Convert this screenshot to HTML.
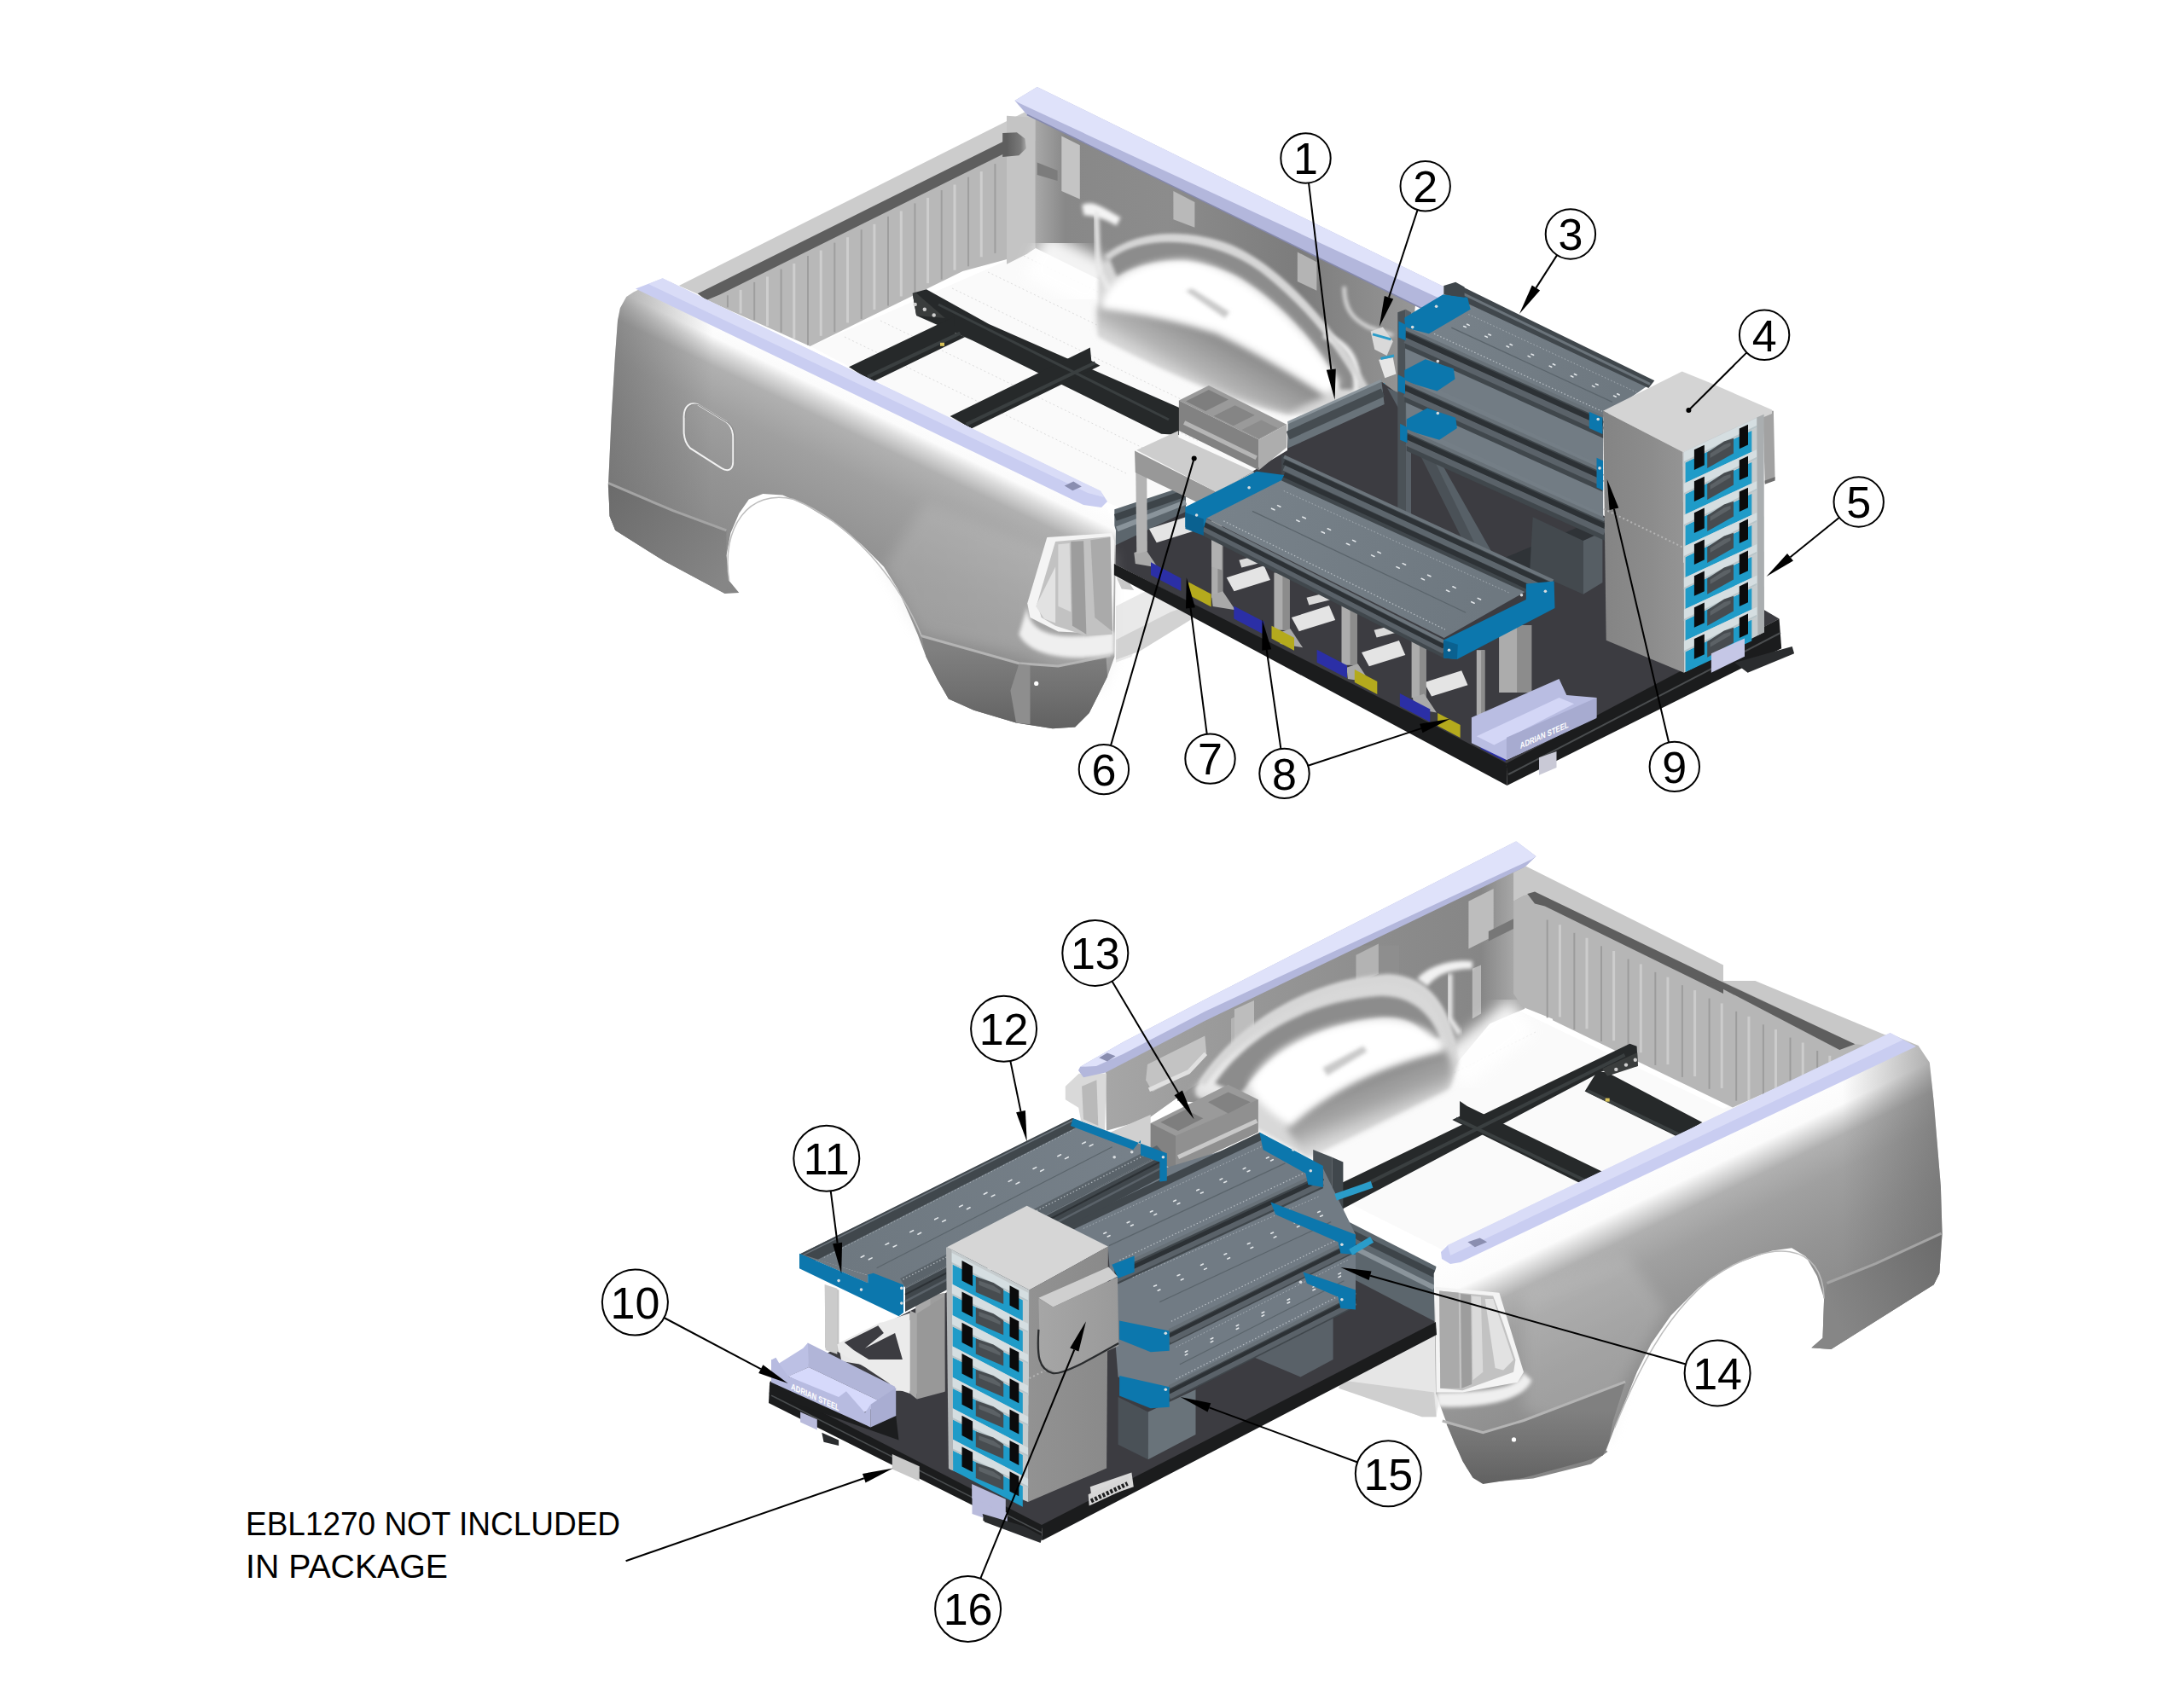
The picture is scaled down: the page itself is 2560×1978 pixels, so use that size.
<!DOCTYPE html>
<html><head><meta charset="utf-8"><title>EBL1270 package</title>
<style>
html,body{margin:0;padding:0;background:#fff;}
body{width:2560px;height:1978px;overflow:hidden;}
svg{display:block;}
text{font-family:"Liberation Sans","DejaVu Sans",sans-serif;fill:#000;}
</style></head><body>
<svg width="2560" height="1978" viewBox="0 0 2560 1978">
<defs>
<linearGradient id="g1" gradientUnits="userSpaceOnUse" x1="1180" y1="100" x2="1203.8" y2="100"><stop offset="0" stop-color="#5e5e5e"/><stop offset="0.7" stop-color="#7a7a7a"/><stop offset="1" stop-color="#b0b0b0"/></linearGradient>
<linearGradient id="g2" gradientUnits="userSpaceOnUse" x1="1213.4" y1="100" x2="1656.6" y2="100"><stop offset="0" stop-color="#a8a8a8"/><stop offset="0.08" stop-color="#888888"/><stop offset="0.35" stop-color="#8c8c8c"/><stop offset="0.7" stop-color="#7c7c7c"/><stop offset="1" stop-color="#969696"/></linearGradient>
<linearGradient id="g3" gradientUnits="userSpaceOnUse" x1="1389.9" y1="374" x2="1349.6" y2="443.6"><stop offset="0" stop-color="#8e8e8e"/><stop offset="0.55" stop-color="#b4b4b4"/><stop offset="1" stop-color="#f4f4f4"/></linearGradient>
<linearGradient id="g4" gradientUnits="userSpaceOnUse" x1="1000" y1="446" x2="857.1" y2="743"><stop offset="0" stop-color="#ffffff"/><stop offset="0.075" stop-color="#fbfbfb"/><stop offset="0.11" stop-color="#dcdcdc"/><stop offset="0.17" stop-color="#b0b0b0"/><stop offset="0.3" stop-color="#a0a0a0"/><stop offset="0.5" stop-color="#949494"/><stop offset="0.75" stop-color="#8a8a8a"/><stop offset="1" stop-color="#808080"/></linearGradient>
<linearGradient id="g5" gradientUnits="userSpaceOnUse" x1="712" y1="0" x2="835" y2="0"><stop offset="0" stop-color="#6a6a6a"/><stop offset="1" stop-color="#6a6a6a00"/></linearGradient>
<linearGradient id="g6" gradientUnits="userSpaceOnUse" x1="1080" y1="0" x2="1300" y2="0"><stop offset="0" stop-color="#c9c9c9"/><stop offset="1" stop-color="#d4d4d4"/></linearGradient>
<linearGradient id="g7" gradientUnits="userSpaceOnUse" x1="713" y1="578.9" x2="851.4" y2="677.8"><stop offset="0" stop-color="#6c6c6c"/><stop offset="1" stop-color="#868686"/></linearGradient>
<linearGradient id="g8" gradientUnits="userSpaceOnUse" x1="1174.5" y1="760.2" x2="1174.5" y2="852.5"><stop offset="0" stop-color="#808080"/><stop offset="0.5" stop-color="#727272"/><stop offset="1" stop-color="#626262"/></linearGradient>
<linearGradient id="g9" gradientUnits="userSpaceOnUse" x1="1669.7" y1="388.8" x2="1879.1" y2="486.2"><stop offset="0" stop-color="#78828a"/><stop offset="1" stop-color="#6e7880"/></linearGradient>
<linearGradient id="g10" gradientUnits="userSpaceOnUse" x1="1414.3" y1="606.9" x2="1739.6" y2="724.1"><stop offset="0" stop-color="#78828a"/><stop offset="1" stop-color="#6e7880"/></linearGradient>
<linearGradient id="g11" gradientUnits="userSpaceOnUse" x1="1879.1" y1="400" x2="1972.7" y2="400"><stop offset="0" stop-color="#848484"/><stop offset="0.6" stop-color="#8c8c8c"/><stop offset="1" stop-color="#949494"/></linearGradient>
<linearGradient id="g12" gradientUnits="userSpaceOnUse" x1="1380" y1="960" x2="1775.6" y2="960"><stop offset="0" stop-color="#929292"/><stop offset="0.3" stop-color="#7e7e7e"/><stop offset="0.6" stop-color="#8c8c8c"/><stop offset="0.9" stop-color="#868686"/><stop offset="1" stop-color="#a8a8a8"/></linearGradient>
<linearGradient id="g13" gradientUnits="userSpaceOnUse" x1="1590.6" y1="1261.2" x2="1618.1" y2="1330.8"><stop offset="0" stop-color="#888888"/><stop offset="0.5" stop-color="#a6a6a6"/><stop offset="1" stop-color="#f2f2f2"/></linearGradient>
<linearGradient id="g14" gradientUnits="userSpaceOnUse" x1="1296.9" y1="1120" x2="1604.6" y2="1120"><stop offset="0" stop-color="#a6a6a6"/><stop offset="0.5" stop-color="#989898"/><stop offset="1" stop-color="#8e8e8e"/></linearGradient>
<linearGradient id="g15" gradientUnits="userSpaceOnUse" x1="1950" y1="1340" x2="2092.9" y2="1637"><stop offset="0" stop-color="#ffffff"/><stop offset="0.15" stop-color="#fbfbfb"/><stop offset="0.19" stop-color="#dcdcdc"/><stop offset="0.25" stop-color="#b0b0b0"/><stop offset="0.36" stop-color="#a0a0a0"/><stop offset="0.55" stop-color="#949494"/><stop offset="0.78" stop-color="#8a8a8a"/><stop offset="1" stop-color="#808080"/></linearGradient>
<linearGradient id="g16" gradientUnits="userSpaceOnUse" x1="2278" y1="0" x2="2160" y2="0"><stop offset="0" stop-color="#6a6a6a"/><stop offset="1" stop-color="#6a6a6a00"/></linearGradient>
<linearGradient id="g17" gradientUnits="userSpaceOnUse" x1="2141.4" y1="1522.6" x2="2274.9" y2="1456.7"><stop offset="0" stop-color="#868686"/><stop offset="1" stop-color="#6c6c6c"/></linearGradient>
<linearGradient id="g18" gradientUnits="userSpaceOnUse" x1="1786" y1="1654.1" x2="1786" y2="1737.5"><stop offset="0" stop-color="#808080"/><stop offset="0.5" stop-color="#727272"/><stop offset="1" stop-color="#626262"/></linearGradient>
<linearGradient id="g19" gradientUnits="userSpaceOnUse" x1="937.5" y1="1470.6" x2="1364" y2="1352"><stop offset="0" stop-color="#6d777f"/><stop offset="1" stop-color="#77818a"/></linearGradient>
<linearGradient id="g20" gradientUnits="userSpaceOnUse" x1="1206.6" y1="1260" x2="1298.9" y2="1260"><stop offset="0" stop-color="#929292"/><stop offset="1" stop-color="#8a8a8a"/></linearGradient>
<linearGradient id="g21" gradientUnits="userSpaceOnUse" x1="1218.3" y1="1260" x2="1310.6" y2="1260"><stop offset="0" stop-color="#a6a6a6"/><stop offset="1" stop-color="#9a9a9a"/></linearGradient>
</defs>
<rect width="2560" height="1978" fill="#fff"/>
<filter id="b2" x="-20%" y="-20%" width="140%" height="140%"><feGaussianBlur stdDeviation="2"/></filter>
<filter id="b4" x="-20%" y="-20%" width="140%" height="140%"><feGaussianBlur stdDeviation="4"/></filter>
<filter id="b8" x="-30%" y="-30%" width="160%" height="160%"><feGaussianBlur stdDeviation="8"/></filter>
<filter id="b14" x="-30%" y="-30%" width="160%" height="160%"><feGaussianBlur stdDeviation="14"/></filter>
<clipPath id="cpTop"><polygon points="743,342.3 734.2,348.1 726.9,361.3 724,376 721,417 716.6,490.3 712.8,574.1 713,565.7 714.6,605.3 721.2,621.8 778.9,658 821.8,681.1 849.8,695.9 866.3,694.9 854.7,681.1 851.4,651.4 856.4,625.1 866.3,602 877.8,585.5 894.3,578.9 917.4,580.5 943.7,592.1 976.7,611.9 1009.7,638.2 1036,664.6 1052.5,691 1065.7,720.7 1075.6,743.7 1085.5,770.1 1098.7,796.5 1111.9,819.6 1141.5,832.7 1191,847.6 1233.8,854.2 1260.2,852.5 1276.7,836 1289.9,809.7 1298.1,793.2 1306.4,770.1 1308,621.8 1304.7,611.9 1296.5,592.1 1289.9,575.6 776.7,326.2"/></clipPath>
<clipPath id="cpBot"><polygon points="2215.6,1212.1 2248.6,1225.9 2261.8,1245.7 2266.7,1291.9 2274.9,1390.8 2276.6,1446.8 2273.3,1493 2266.7,1506.2 2146.4,1582 2123.3,1580.3 2136.5,1568.8 2138.1,1522.6 2129.9,1496.3 2116.7,1473.2 2100.2,1463.3 2077.1,1466.6 2031,1483.1 1991.4,1509.5 1958.5,1542.4 1935.4,1575.4 1918.9,1608.4 1905.7,1641.3 1892.5,1674.3 1882.6,1700.7 1884.5,1702.1 1865.1,1716.6 1797.1,1733.6 1738.9,1738.5 1719.5,1721.5 1704.9,1692.4 1692.8,1660.8 1683.1,1634.1 1680.7,1493.4 1693,1462"/></clipPath>
<polygon points="950,406 1213,291 1330,345 1650,520 1420,640 1300,590" fill="#fafafa" />
<polyline points="990,395 1320,555" fill="none" stroke="#dcdcdc" stroke-width="1" stroke-dasharray="2 3"/>
<polyline points="1032,376 1362,536" fill="none" stroke="#dcdcdc" stroke-width="1" stroke-dasharray="2 3"/>
<polyline points="1074,357 1404,517" fill="none" stroke="#dcdcdc" stroke-width="1" stroke-dasharray="2 3"/>
<polyline points="1116,338 1446,498" fill="none" stroke="#dcdcdc" stroke-width="1" stroke-dasharray="2 3"/>
<polyline points="1158,319 1488,479" fill="none" stroke="#dcdcdc" stroke-width="1" stroke-dasharray="2 3"/>
<polyline points="1200,300 1530,460" fill="none" stroke="#dcdcdc" stroke-width="1" stroke-dasharray="2 3"/>
<polygon points="1420,1330 1770,1180 2020,1300 2170,1235 1700,1470 1560,1400" fill="#fafafa" />
<polyline points="1800,1210 1500,1360" fill="none" stroke="#dedede" stroke-width="1" stroke-dasharray="2 3"/>
<polyline points="1760,1230 1460,1380" fill="none" stroke="#dedede" stroke-width="1" stroke-dasharray="2 3"/>
<polyline points="1720,1250 1420,1400" fill="none" stroke="#dedede" stroke-width="1" stroke-dasharray="2 3"/>
<polyline points="1680,1270 1380,1420" fill="none" stroke="#dedede" stroke-width="1" stroke-dasharray="2 3"/>
<polyline points="1640,1290 1340,1440" fill="none" stroke="#dedede" stroke-width="1" stroke-dasharray="2 3"/>
<polyline points="1600,1310 1300,1460" fill="none" stroke="#dedede" stroke-width="1" stroke-dasharray="2 3"/>
<polygon points="795.8,334.9 1204.5,129.8 1213.9,140.1 1213.9,167.9 1192.8,159.1 819.2,345.2" fill="#cccccc" />
<polygon points="826.5,351.1 1178.2,178.2 1201.6,167.9 1213.9,165 1213.9,291 1201.6,298.3 1128.4,317.9 949.6,405.9" fill="#b8b8b8" />
<polygon points="1213.4,138.1 1659,357.4 1644.7,502 1585.1,474.2 1213.4,290.7" fill="url(#g2)" />
<polygon points="1569.1,1618.3 1683.5,1561.1 1688.3,1630.2 1683.5,1661.2 1666.8,1661.2 1571.5,1627.8" fill="#e6e6e6" />
<polygon points="1380,1212 1787.3,1004 1787.3,1182.7 1746.3,1200.3 1702.3,1253 1467.9,1297 1380,1291.1" fill="url(#g12)" />
<polygon points="1296,1252.7 1585.4,1108.5 1640,1108.5 1640,1177.7 1470,1227.7 1393.1,1277.7 1345,1312.3 1296.9,1325.8" fill="url(#g14)" />
<polygon points="817.7,344.3 1188.4,159.7 1199.3,163.5 1200.1,170.8 1175.2,181.1 844.1,345.2 828,351.9" fill="#5e5e5e" />
<polyline points="852.9,346.3 852.9,360.4" fill="none" stroke="#9e9e9e" stroke-width="2" />
<polyline points="868.1,339.9 868.1,367.5" fill="none" stroke="#cecece" stroke-width="3" />
<polyline points="884.2,330.9 884.2,375.1" fill="none" stroke="#9e9e9e" stroke-width="2" />
<polyline points="899.5,324.4 899.5,382.3" fill="none" stroke="#cecece" stroke-width="3" />
<polyline points="915.6,315.5 915.6,389.8" fill="none" stroke="#9e9e9e" stroke-width="2" />
<polyline points="930.8,309 930.8,397" fill="none" stroke="#cecece" stroke-width="3" />
<polyline points="947,300.1 947,404.6" fill="none" stroke="#9e9e9e" stroke-width="2" />
<polyline points="962.2,293.6 962.2,393.8" fill="none" stroke="#cecece" stroke-width="3" />
<polyline points="978.3,284.6 978.3,389.4" fill="none" stroke="#9e9e9e" stroke-width="2" />
<polyline points="993.6,278.2 993.6,378.4" fill="none" stroke="#cecece" stroke-width="3" />
<polyline points="1009.7,269.2 1009.7,374" fill="none" stroke="#9e9e9e" stroke-width="2" />
<polyline points="1024.9,262.8 1024.9,363" fill="none" stroke="#cecece" stroke-width="3" />
<polyline points="1041,253.8 1041,358.6" fill="none" stroke="#9e9e9e" stroke-width="2" />
<polyline points="1056.3,247.4 1056.3,347.5" fill="none" stroke="#cecece" stroke-width="3" />
<polyline points="1072.4,238.4 1072.4,343.1" fill="none" stroke="#9e9e9e" stroke-width="2" />
<polyline points="1087.6,231.9 1087.6,332.1" fill="none" stroke="#cecece" stroke-width="3" />
<polyline points="1103.7,223 1103.7,327.7" fill="none" stroke="#9e9e9e" stroke-width="2" />
<polyline points="1119,216.5 1119,316.7" fill="none" stroke="#cecece" stroke-width="3" />
<polyline points="1135.1,207.6 1135.1,312.3" fill="none" stroke="#9e9e9e" stroke-width="2" />
<polyline points="1150.3,201.1 1150.3,301.3" fill="none" stroke="#cecece" stroke-width="3" />
<polyline points="1166.4,192.1 1166.4,296.9" fill="none" stroke="#9e9e9e" stroke-width="2" />
<polyline points="1181.7,185.7 1181.7,285.9" fill="none" stroke="#cecece" stroke-width="3" />
<polygon points="1180,135.7 1213.4,138.1 1213.4,290.7 1203.8,297.8 1180,309.7" fill="#c4c4c4" />
<polygon points="1244.3,159.6 1265.8,170.3 1265.8,233.5 1244.3,223.9" fill="#c4c4c4" />
<polygon points="1375.4,223.9 1400.4,237 1400.4,266.8 1375.4,257.3" fill="#b9b9b9" />
<polygon points="1520.8,295.4 1543.4,307.3 1543.4,340.7 1520.8,330" fill="#b4b4b4" />
<polygon points="1215.7,190.6 1239.6,200.1 1239.6,212 1215.7,204.9" fill="#7c7c7c" />
<polyline points="1213.4,297.8 1294.4,338.3" fill="none" stroke="#ffffff" stroke-width="60" filter="url(#b8)" opacity="0.9"/>
<polygon points="1571.5,1618.3 1681.1,1632.6 1683.5,1661.2 1666.8,1661.2 1569.1,1627.8" fill="#cfcfcf" />
<polygon points="1443,1194.4 1469.4,1181.2 1469.4,1223.7 1443,1238.4" fill="#b3b3b3" />
<polygon points="1589.5,1119.7 1615.9,1106.5 1615.9,1141.7 1589.5,1153.4" fill="#b3b3b3" />
<polygon points="1721.4,1056.7 1750.7,1042.1 1750.7,1097.7 1721.4,1112.4" fill="#bdbdbd" />
<polygon points="1744.8,1091.9 1774.1,1077.2 1774.1,1088.9 1744.8,1103.6" fill="#777777" />
<polygon points="1725.8,1135.8 1736,1131.4 1736,1188.6 1725.8,1194.4" fill="#b9b9b9" />
<polyline points="1784.4,1191.5 1702.3,1256" fill="none" stroke="#ffffff" stroke-width="50" filter="url(#b8)" opacity="0.9"/>
<polygon points="1774.1,1023 1788.8,1015.7 2020,1131.4 2020,1153.4 1799,1046.4 1790.3,1047.9 1774.1,1056.7" fill="#c8c8c8" />
<polygon points="1774.1,1056.7 1790.3,1047.9 1799,1046.4 2020,1153.4 2020,1285.3 1916.3,1235.5 1848.9,1206.2 1784.4,1180.4 1774.1,1165.1" fill="#b6b6b6" />
<polygon points="1820,1150.1 2017.8,1150.1 2212.3,1214.4 2192.5,1225.9 2031,1298.5 1820,1196.3" fill="#b6b6b6" />
<polygon points="1345,1247.9 1412.3,1214.6 1414.2,1235.4 1393.1,1258.5 1350.8,1280 1343.1,1266.2" fill="#c3c3c3" />
<polyline points="1346.9,1277.7 1393.1,1256.9 1413.3,1235.4" fill="none" stroke="#e0e0e0" stroke-width="5" />
<polygon points="1446.9,1183.5 1470,1172.9 1470,1227.7 1446.9,1239.2" fill="#bdbdbd" />
<polygon points="1175.2,156 1191.9,155.3 1201.4,162.4 1202.9,173.9 1194.3,182.2 1175.2,183.9" fill="url(#g1)" />
<path d="M 1287.3 328.2 C 1298.3 276.9 1371.6 260.4 1444.8 287.9 C 1508.9 319 1563.9 383.2 1602.3 460.1 L 1573 485.7 1508.9 485.7 C 1444.8 471.1 1362.4 434.4 1287.3 394.1 Z" fill="#d8d8d8" filter="url(#b2)"/>
<path d="M 1402 1275.8 C 1444.1 1202.6 1535.7 1147.6 1627.3 1142.1 C 1673 1144 1702.3 1176.9 1709.7 1246.5 L 1698.7 1275.8 1533.8 1356.4 C 1497.2 1338.1 1453.3 1310.6 1402 1285 Z" fill="#d8d8d8" filter="url(#b2)"/>
<polygon points="2017.8,1150.1 2057.4,1150.1 2212.3,1214.4 2192.5,1225.9 2174.4,1224.3" fill="#c8c8c8" />
<polygon points="1790.3,1047.9 1799,1045.6 2020,1151.9 2020,1165.1 1810.8,1062.6 1799,1059.6" fill="#5e5e5e" />
<polyline points="1813.7,1078.5 1813.7,1193.3" fill="none" stroke="#9c9c9c" stroke-width="2" />
<polyline points="1828.4,1084.3 1828.4,1192.4" fill="none" stroke="#cccccc" stroke-width="3" />
<polyline points="1845.3,1093.8 1845.3,1207.2" fill="none" stroke="#9c9c9c" stroke-width="2" />
<polyline points="1860,1099.7 1860,1206.3" fill="none" stroke="#cccccc" stroke-width="3" />
<polyline points="1877,1109.2 1877,1221.1" fill="none" stroke="#9c9c9c" stroke-width="2" />
<polyline points="1891.6,1115 1891.6,1220.2" fill="none" stroke="#cccccc" stroke-width="3" />
<polyline points="1908.6,1124.5 1908.6,1235" fill="none" stroke="#9c9c9c" stroke-width="2" />
<polyline points="1923.3,1130.4 1923.3,1234.2" fill="none" stroke="#cccccc" stroke-width="3" />
<polyline points="1940.3,1139.9 1940.3,1249" fill="none" stroke="#9c9c9c" stroke-width="2" />
<polyline points="1954.9,1145.7 1954.9,1248.1" fill="none" stroke="#cccccc" stroke-width="3" />
<polyline points="1971.9,1155.2 1971.9,1262.9" fill="none" stroke="#9c9c9c" stroke-width="2" />
<polyline points="1986.6,1161.1 1986.6,1262" fill="none" stroke="#cccccc" stroke-width="3" />
<polyline points="2003.6,1170.6 2003.6,1276.8" fill="none" stroke="#9c9c9c" stroke-width="2" />
<polyline points="2018.2,1176.4 2018.2,1275.9" fill="none" stroke="#cccccc" stroke-width="3" />
<polyline points="2035.2,1185.9 2035.2,1290.7" fill="none" stroke="#9c9c9c" stroke-width="2" />
<polyline points="2049.9,1191.8 2049.9,1289.9" fill="none" stroke="#cccccc" stroke-width="3" />
<polyline points="2066.9,1201.3 2066.9,1304.7" fill="none" stroke="#9c9c9c" stroke-width="2" />
<polyline points="2081.5,1207.1 2081.5,1303.8" fill="none" stroke="#cccccc" stroke-width="3" />
<polyline points="2098.5,1216.6 2098.5,1318.6" fill="none" stroke="#9c9c9c" stroke-width="2" />
<polyline points="2113.2,1222.5 2113.2,1317.7" fill="none" stroke="#cccccc" stroke-width="3" />
<polyline points="2130.2,1232 2130.2,1332.5" fill="none" stroke="#9c9c9c" stroke-width="2" />
<polyline points="2144.8,1237.8 2144.8,1331.6" fill="none" stroke="#cccccc" stroke-width="3" />
<polyline points="2161.8,1247.3 2161.8,1346.4" fill="none" stroke="#9c9c9c" stroke-width="2" />
<polyline points="2176.5,1253.2 2176.5,1345.6" fill="none" stroke="#cccccc" stroke-width="3" />
<path d="M 1398.8 1279.6 C 1431.5 1243.1 1470 1212.3 1527.7 1193.1 L 1537.3 1210.4 C 1489.2 1227.7 1450.8 1254.6 1427.7 1285.4 Z" fill="#e9e9e9" filter="url(#b4)"/>
<path d="M 1300.1 302.6 C 1334.9 273.3 1417.4 273.3 1477.8 317.2 C 1527.3 355.7 1565.7 401.5 1595 456.4 L 1571.2 456.4 C 1545.6 405.1 1508.9 361.2 1454 326.4 C 1408.2 302.6 1353.3 298.9 1309.3 324.5 Z" fill="#8c8c8c" filter="url(#b2)"/>
<path d="M 1268.2 240.6 C 1280.1 233.5 1292 243 1313.5 254.9 L 1308.7 264.4 C 1292 254.9 1280.1 252.5 1270.6 252.5 Z" fill="#f4f4f4" filter="url(#b2)"/>
<polyline points="1284.9,247.8 1287.2,314.5 1299.2,338.3" fill="none" stroke="#e9e9e9" stroke-width="6" filter="url(#b2)"/>
<path d="M 1575.6 335.9 C 1575.6 362.1 1585.1 374.1 1604.2 383.6 L 1632.8 393.1" fill="none" stroke="#e4e4e4" stroke-width="4" filter="url(#b2)"/>
<path d="M 1551.8 393.1 C 1570.8 400.3 1585.1 409.8 1589.9 433.6 L 1589.9 471.8" fill="none" stroke="#efefef" stroke-width="7" filter="url(#b2)"/>
<path d="M 1424 1270.3 C 1462.4 1213.6 1535.7 1173.3 1618.1 1167.8 C 1654.7 1167.8 1676.7 1187.9 1687.7 1217.2 L 1671.2 1219 C 1662.1 1198.9 1645.6 1191.6 1618.1 1193.4 C 1554 1198.9 1489.9 1233.7 1453.3 1283.2 Z" fill="#8c8c8c" filter="url(#b2)"/>
<path d="M 1661.3 1147.5 C 1673 1132.9 1702.3 1124.1 1725.8 1127 L 1725.8 1135.8 C 1702.3 1135.8 1684.8 1141.7 1673 1156.3 Z" fill="#f2f2f2" filter="url(#b2)"/>
<polyline points="1699.4,1141.7 1699.4,1194.4 1711.1,1212" fill="none" stroke="#eaeaea" stroke-width="6" filter="url(#b2)"/>
<polygon points="2004.6,1151.8 2019.8,1151.8 2174.4,1224.3 2156.3,1230.9" fill="#5e5e5e" />
<polygon points="1264.6,1258.8 1248.8,1273.8 1248.8,1289.2 1264.2,1298.8 1267.1,1314.2 1295,1325.8 1296.9,1258.5" fill="#d9d9d9" />
<path d="M 1296.5 302.6 C 1334.9 269.6 1419.2 269.6 1481.5 315.4 C 1532.7 355.7 1573 405.1 1602.3 458.2" fill="none" stroke="#d6d6d6" stroke-width="7" filter="url(#b2)"/>
<path d="M 1287.3 357.5 C 1334.9 364.8 1380.7 374 1426.5 390.5 C 1472.3 412.5 1518.1 439.9 1554.7 463.7 L 1510.8 483.9 C 1444.8 469.2 1367.9 432.6 1291 394.1 C 1285.5 383.2 1285.5 370.3 1287.3 357.5 Z" fill="url(#g3)" filter="url(#b4)"/>
<polygon points="1606.6,388.4 1620.9,383.6 1632.8,400.3 1625.6,417 1611.3,409.8" fill="#d9d9d9" />
<polygon points="1616.1,421.7 1632.8,419.3 1636.4,438.4 1623.3,443.2" fill="#e6e6e6" />
<polygon points="1189.5,117.9 1215.7,101.9 1692,336 1692,374 1203.8,134.5" fill="#b3b7dc" />
<path d="M 1409.3 1270.3 C 1453.3 1202.6 1535.7 1154.9 1621.8 1149.5 C 1665.7 1149.5 1691.4 1178.8 1702.3 1228.2" fill="none" stroke="#d6d6d6" stroke-width="7" filter="url(#b2)"/>
<path d="M 1508.2 1321.6 C 1563.2 1268.5 1636.4 1242.9 1693.2 1230 C 1705.1 1246.5 1703.3 1264.8 1695 1276.7 L 1535.7 1355.5 C 1522.9 1345.4 1513.7 1334.4 1508.2 1321.6 Z" fill="url(#g13)" filter="url(#b4)"/>
<polygon points="1777.1,986.4 1800.5,1004 1787.9,1016.3 1412.3,1196.9 1316.2,1246.9 1296,1257.5 1270,1263.3 1264,1255 1266.2,1250.8 1316.2,1221.9 1412.3,1171.9" fill="#b3b7dc" />
<polygon points="1268.1,1273.8 1285.4,1266.2 1287.3,1320 1270,1312.3" fill="#b9b9b9" />
<path d="M 1291 361.2 C 1294.7 328.2 1334.9 304.4 1389.9 304.4 C 1444.8 311.7 1508.9 357.5 1571.2 449.1 L 1554.7 461.9 C 1518.1 438.1 1472.3 410.6 1426.5 388.6 C 1371.6 372.2 1325.8 364.8 1291 361.2 Z" fill="#ffffff" filter="url(#b4)"/>
<polyline points="1609,391.9 1630.4,397.9" fill="none" stroke="#2a9cc9" stroke-width="3" />
<polyline points="1618.5,420.5 1634,417" fill="none" stroke="#2a9cc9" stroke-width="3" />
<polyline points="1606.6,457.5 1623.3,450.3" fill="none" stroke="#2a9cc9" stroke-width="3" />
<polygon points="1189.5,117.9 1215.7,101.9 1692,336 1692,352 1196,121.5" fill="#dfe2fa" />
<polyline points="1203.8,134.5 1692,374" fill="none" stroke="#8589ad" stroke-width="1.5" />
<path d="M 1464.2 1272.2 C 1482.6 1231.9 1544.8 1198.9 1618.1 1195.2 C 1654.7 1195.2 1687.7 1209.9 1691.4 1231 C 1645.6 1242.9 1572.3 1264.8 1511.9 1319.8 C 1489.9 1305.1 1471.6 1290.5 1464.2 1272.2 Z" fill="#ffffff" filter="url(#b4)"/>
<polygon points="1777.1,986.4 1800.5,1004 1795.5,1007.5 1412.3,1186 1316.2,1236 1285,1250 1266.2,1250.8 1316.2,1221.9 1412.3,1171.9" fill="#dfe2fa" />
<path d="M 1389.9 341 L 1397.2 338.3 1441.2 365.8 1435.7 373.1 Z" fill="#c9c9c9" filter="url(#b2)"/>
<polygon points="1069.7,343.7 1085.9,339.3 1159.2,380 1382.3,478.1 1382,510 1361.2,508.8 1140,399.2 1074.1,370.1" fill="#26292a" />
<polygon points="995,430.2 1118.1,371.6 1119.6,390.6 1131.3,395 1022.9,447.8" fill="#26292a" />
<polygon points="1113.7,487.9 1277.8,407.6 1279.3,422.9 1289.5,428.7 1138.6,502.6" fill="#26292a" />
<path d="M 1550.3 1252 L 1597.9 1226.4 1602.5 1232.8 1555.8 1261.2 Z" fill="#c9c9c9" filter="url(#b2)"/>
<polygon points="1288.3,1240.2 1297.9,1234.4 1307.5,1238.3 1297.9,1244.6" fill="#8a8eb0" />
<polygon points="1910.4,1223.7 1918.6,1226.7 1919.8,1250.1 1878.2,1256 1567.5,1420.7 1561.7,1417.1 1561.7,1392.2" fill="#26292a" />
<polygon points="1711.1,1291.1 1719.9,1297 1878.2,1373.8 1854.7,1388.4 1702.3,1313.1 1711.1,1308.7" fill="#26292a" />
<polygon points="1872.3,1256 1884,1257.4 1995.4,1316 1966.1,1332.7 1857.7,1279.4" fill="#26292a" />
<polyline points="1100,357 1370,492" fill="none" stroke="#3a3f40" stroke-width="3" />
<polygon points="1069.7,344.6 1074.1,343.7 1107.8,373 1074.1,370.1" fill="#3a3d3d" />
<circle cx="1072.7" cy="356.9" r="2.2" fill="#cfcfcf"/>
<circle cx="1083.8" cy="362.8" r="2.2" fill="#cfcfcf"/>
<circle cx="1094.7" cy="369.5" r="2.2" fill="#cfcfcf"/>
<polyline points="1017,441.9 1125.4,390.6" fill="none" stroke="#3a3f40" stroke-width="4" />
<polyline points="1132.7,497.6 1283.7,425.2" fill="none" stroke="#3a3f40" stroke-width="4" />
<rect x="1102" y="401.8" width="5" height="4" fill="#d9c35a"/>
<polygon points="1308,710.8 1400,664.6 1400,710.8 1339.3,740.4 1326.2,770.1 1308,776.7" fill="#e9e9e9" />
<polyline points="1904.5,1236.9 1567.5,1405.4" fill="none" stroke="#3a3f40" stroke-width="4" />
<polygon points="1878.2,1253 1919.2,1234 1919.8,1250.1 1884,1261.8" fill="#3a3d3d" />
<circle cx="1894.3" cy="1253.9" r="2.2" fill="#cfcfcf"/>
<circle cx="1906" cy="1248.6" r="2.2" fill="#cfcfcf"/>
<circle cx="1916.8" cy="1242.8" r="2.2" fill="#cfcfcf"/>
<polyline points="1706.7,1311.6 1860.6,1385.5" fill="none" stroke="#3a3f40" stroke-width="4" />
<polyline points="1860.6,1278.8 1969,1330.7" fill="none" stroke="#3a3f40" stroke-width="4" />
<rect x="1881.7" y="1287.6" width="5" height="4" fill="#d9c35a"/>
<polygon points="1308,750.3 1372.3,717.4 1400,707.5 1400,724 1336,763.5 1308,773.4" fill="#d2d2d2" />
<polygon points="1306.3,597.3 1390,569.4 1390,612.7 1309.2,649.2 1306.3,630" fill="#5c666d" />
<polygon points="1571.5,1427.7 1683.5,1484.9 1683.5,1551.6 1578.6,1503.9" fill="#5c666d" />
<polyline points="1309.2,620.4 1390,588.7" fill="none" stroke="#8a949b" stroke-width="6" />
<polyline points="1307.3,606.9 1390,578.1" fill="none" stroke="#3d4449" stroke-width="8" />
<polygon points="1306,640 1390,600 1509,528 1510,500 1620,448 1650,470 2085.5,725.5 1765.9,897 1305.9,661" fill="#3c3c41" />
<polyline points="1578.6,1458.6 1681.1,1509.9" fill="none" stroke="#8a949b" stroke-width="6" />
<polyline points="1576.3,1442 1682.3,1494.4" fill="none" stroke="#3d4449" stroke-width="8" />
<polygon points="902,1621 902,1630 1221,1792 1683,1553 1683,1550 1365.5,1385" fill="#3c3c41" />
<polygon points="1308.8,677.2 1323.4,683.1 1329.3,691.9 1314.7,690.4" fill="#c8c8c8" />
<polygon points="1301.8,1327.4 1348.7,1306.9 1348.7,1356.7 1378,1372.8 1366.3,1377.2" fill="#d0d0d0" />
<polygon points="1348.7,1317.1 1439.6,1271.7 1474.7,1289.3 1474.7,1327.4 1378,1372.8 1348.7,1356.7" fill="#9a9a9a" />
<polygon points="1348.7,1317.1 1378,1331.8 1378,1372.8 1348.7,1356.7" fill="#828282" />
<polygon points="1378,1331.8 1474.7,1289.3 1474.7,1327.4 1378,1372.8" fill="#909090" />
<polyline points="1381,1356.7 1473.3,1314.2" fill="none" stroke="#c9c9c9" stroke-width="5" />
<polygon points="1360.4,1315.7 1389.7,1301 1410.3,1311.3 1381,1325.9" fill="#7e7e7e" />
<polygon points="1416.1,1292.2 1439.6,1280.5 1465.9,1292.2 1439.6,1305.4" fill="#828282" />
<polygon points="1539.2,1347.9 1561.2,1356.7 1561.2,1553 1539.2,1541.3" fill="#4b5257" />
<polygon points="1561.2,1356.7 1574.4,1362.6 1574.4,1435.8 1561.2,1430" fill="#40474c" />
<polygon points="1468.9,1570.6 1562.6,1523.7 1562.6,1594.1 1524.5,1614.6 1468.9,1591.1" fill="#596168" />
<polygon points="1310.6,1638 1345.8,1655.6 1345.8,1711.3 1310.6,1693.7" fill="#4a5157" />
<polygon points="1345.8,1655.6 1401.5,1629.2 1401.5,1682 1345.8,1711.3" fill="#69737a" />
<polygon points="1480.6,1334.7 1550.9,1369.9 1589,1447.5 1589,1523.7 1370.7,1629.2 1310.6,1614.6 1298.9,1465.1 1205.1,1418.2" fill="#717b84" />
<polygon points="743,342.3 734.2,348.1 726.9,361.3 724,376 721,417 716.6,490.3 712.8,574.1 713,565.7 714.6,605.3 721.2,621.8 778.9,658 821.8,681.1 849.8,695.9 866.3,694.9 854.7,681.1 851.4,651.4 856.4,625.1 866.3,602 877.8,585.5 894.3,578.9 917.4,580.5 943.7,592.1 976.7,611.9 1009.7,638.2 1036,664.6 1052.5,691 1065.7,720.7 1075.6,743.7 1085.5,770.1 1098.7,796.5 1111.9,819.6 1141.5,832.7 1191,847.6 1233.8,854.2 1260.2,852.5 1276.7,836 1289.9,809.7 1298.1,793.2 1306.4,770.1 1308,621.8 1304.7,611.9 1296.5,592.1 1289.9,575.6 776.7,326.2" fill="url(#g4)" />
<polygon points="1509.6,494.9 1619.2,445.5 1622.7,474.1 1509.6,525.6" fill="#69737a" />
<polygon points="1744.5,662 1878.4,606.3 1878.4,627.2 1758.4,682.9" fill="#2f3337" />
<polygon points="2215.6,1212.1 2248.6,1225.9 2261.8,1245.7 2266.7,1291.9 2274.9,1390.8 2276.6,1446.8 2273.3,1493 2266.7,1506.2 2146.4,1582 2123.3,1580.3 2136.5,1568.8 2138.1,1522.6 2129.9,1496.3 2116.7,1473.2 2100.2,1463.3 2077.1,1466.6 2031,1483.1 1991.4,1509.5 1958.5,1542.4 1935.4,1575.4 1918.9,1608.4 1905.7,1641.3 1892.5,1674.3 1882.6,1700.7 1884.5,1702.1 1865.1,1716.6 1797.1,1733.6 1738.9,1738.5 1719.5,1721.5 1704.9,1692.4 1692.8,1660.8 1683.1,1634.1 1680.7,1493.4 1693,1462" fill="url(#g15)" />
<polygon points="1476.2,1328 1486.4,1333.3 1257.9,1441.7 1249.1,1435.8" fill="#40474c" />
<polyline points="1312.3,1477.6 1531.6,1373.8" fill="none" stroke="#c9d0d5" stroke-width="1.2" stroke-dasharray="1.5 2.5" opacity="0.8"/>
<polyline points="1269.9,1440.4 1480.3,1343.6" fill="none" stroke="#c9d0d5" stroke-width="1" stroke-dasharray="1.5 2.5" opacity="0.6"/>
<polyline points="1299.9,1460.6 1506.5,1363.9" fill="none" stroke="#5a646b" stroke-width="1.2" />
<line x1="1298.2" y1="1450" x2="1301" y2="1448.7" stroke="#e3e7ea" stroke-width="1.6" stroke-linecap="round"/>
<line x1="1293.9" y1="1446.3" x2="1296.7" y2="1445" stroke="#e3e7ea" stroke-width="1.6" stroke-linecap="round"/>
<line x1="1325.6" y1="1437.3" x2="1328.3" y2="1436" stroke="#e3e7ea" stroke-width="1.6" stroke-linecap="round"/>
<line x1="1321.1" y1="1433.7" x2="1323.9" y2="1432.4" stroke="#e3e7ea" stroke-width="1.6" stroke-linecap="round"/>
<line x1="1352.9" y1="1424.6" x2="1355.6" y2="1423.3" stroke="#e3e7ea" stroke-width="1.6" stroke-linecap="round"/>
<line x1="1348.4" y1="1421" x2="1351.1" y2="1419.8" stroke="#e3e7ea" stroke-width="1.6" stroke-linecap="round"/>
<line x1="1380.2" y1="1411.8" x2="1382.9" y2="1410.6" stroke="#e3e7ea" stroke-width="1.6" stroke-linecap="round"/>
<line x1="1375.6" y1="1408.4" x2="1378.3" y2="1407.2" stroke="#e3e7ea" stroke-width="1.6" stroke-linecap="round"/>
<line x1="1407.5" y1="1399.1" x2="1410.2" y2="1397.9" stroke="#e3e7ea" stroke-width="1.6" stroke-linecap="round"/>
<line x1="1402.8" y1="1395.8" x2="1405.5" y2="1394.5" stroke="#e3e7ea" stroke-width="1.6" stroke-linecap="round"/>
<line x1="1434.8" y1="1386.4" x2="1437.6" y2="1385.2" stroke="#e3e7ea" stroke-width="1.6" stroke-linecap="round"/>
<line x1="1430" y1="1383.2" x2="1432.7" y2="1381.9" stroke="#e3e7ea" stroke-width="1.6" stroke-linecap="round"/>
<line x1="1462.1" y1="1373.7" x2="1464.9" y2="1372.4" stroke="#e3e7ea" stroke-width="1.6" stroke-linecap="round"/>
<line x1="1457.2" y1="1370.6" x2="1459.9" y2="1369.3" stroke="#e3e7ea" stroke-width="1.6" stroke-linecap="round"/>
<line x1="1489.5" y1="1361" x2="1492.2" y2="1359.7" stroke="#e3e7ea" stroke-width="1.6" stroke-linecap="round"/>
<line x1="1484.4" y1="1357.9" x2="1487.1" y2="1356.7" stroke="#e3e7ea" stroke-width="1.6" stroke-linecap="round"/>
<rect x="700" y="330" width="140" height="380" fill="url(#g5)" clip-path="url(#cpTop)" opacity="0.6"/>
<polygon points="1085.5,588.8 1273.4,664.6 1306.4,644.8 1306.4,770.1 1289.9,809.7 1207.5,770.1 1080.5,743.7 1065.7,720.7 1052.5,691 1036,664.6" fill="url(#g6)" opacity="0.28" filter="url(#b8)"/>
<polyline points="1509.6,510.6 1620.9,460.1" fill="none" stroke="#454c51" stroke-width="10" />
<polyline points="1509.6,495.6 1619.2,446.2" fill="none" stroke="#8b959c" stroke-width="3" />
<polygon points="1626.2,454.9 1643.6,461.9 1754.9,658.5 1737.5,658.5" fill="#576067" />
<polygon points="1643.6,491.5 1661,498.4 1730.5,641.1 1720.1,644.6" fill="#4a5157" />
<polygon points="1796.7,606.3 1855.8,634.1 1855.8,696.8 1793.2,668.9" fill="#43494e" />
<polygon points="1855.8,634.1 1878.4,623.7 1878.4,682.9 1855.8,696.8" fill="#565e64" />
<polygon points="1786,1513.5 1905.1,1470.6 1952.8,1534.9 1905.1,1618.3 1886.1,1689.8 1786,1654.1" fill="#d2d2d2" opacity="0.25" filter="url(#b8)"/>
<rect x="2150" y="1200" width="140" height="380" fill="url(#g16)" clip-path="url(#cpBot)" opacity="0.6"/>
<polygon points="1550.9,1372.8 1306.2,1487.1 1306.2,1507.6 1550.9,1393.3" fill="#40474c" />
<polygon points="713,566.4 788.8,598.7 851.4,621.8 851.4,651.4 854.7,681.1 849.8,695.9 821.8,681.1 778.9,658 721.2,621.8 714.6,605.3" fill="url(#g7)" />
<polygon points="1080.5,746.4 1194.3,778.4 1240.4,781.6 1296.5,770.1 1298.1,793.2 1289.9,809.7 1276.7,836 1260.2,852.5 1233.8,854.2 1191,847.6 1141.5,832.7 1111.9,819.6 1098.7,796.5 1085.5,770.1" fill="url(#g8)" />
<polygon points="1638.3,366.2 1647.7,362.7 1647.7,602.8 1638.3,599.3" fill="#4b5257" />
<polygon points="1647.7,362.7 1654,366.2 1654,606.3 1647.7,602.8" fill="#596168" />
<polygon points="2141.4,1504.5 2199.1,1481.4 2275.6,1446.8 2273.3,1493 2266.7,1506.2 2146.4,1582 2123.3,1580.3 2136.5,1568.8 2138.1,1522.6" fill="url(#g17)" />
<polygon points="1695.4,1669.6 1738.3,1680.3 1786,1666 1905.1,1620.7 1890.8,1666 1886.1,1689.8 1878.9,1706.5 1857.5,1713.6 1786,1732.7 1738.3,1739.9 1726.4,1732.7 1714.5,1713.6" fill="url(#g18)" />
<polyline points="1550.9,1374 1306.2,1488.3" fill="none" stroke="#687178" stroke-width="4" />
<polyline points="1550.9,1381.4 1306.2,1495.7" fill="none" stroke="#2c3135" stroke-width="5" />
<polyline points="1550.9,1387.6 1306.2,1501.9" fill="none" stroke="#5a6269" stroke-width="6" />
<polyline points="1372.9,1549.3 1576.1,1449.3" fill="none" stroke="#c9d0d5" stroke-width="1.2" stroke-dasharray="1.5 2.5" opacity="0.8"/>
<polyline points="1327.7,1497.8 1547.4,1402.2" fill="none" stroke="#c9d0d5" stroke-width="1" stroke-dasharray="1.5 2.5" opacity="0.6"/>
<polyline points="1359.3,1526.6 1560.2,1432.6" fill="none" stroke="#5a646b" stroke-width="1.2" />
<line x1="1357.2" y1="1513.2" x2="1359.9" y2="1512" stroke="#e3e7ea" stroke-width="1.6" stroke-linecap="round"/>
<line x1="1352.7" y1="1508.1" x2="1355.5" y2="1506.9" stroke="#e3e7ea" stroke-width="1.6" stroke-linecap="round"/>
<line x1="1384.4" y1="1500.8" x2="1387.1" y2="1499.6" stroke="#e3e7ea" stroke-width="1.6" stroke-linecap="round"/>
<line x1="1380.1" y1="1495.7" x2="1382.9" y2="1494.5" stroke="#e3e7ea" stroke-width="1.6" stroke-linecap="round"/>
<line x1="1411.6" y1="1488.4" x2="1414.3" y2="1487.1" stroke="#e3e7ea" stroke-width="1.6" stroke-linecap="round"/>
<line x1="1407.5" y1="1483.4" x2="1410.3" y2="1482.1" stroke="#e3e7ea" stroke-width="1.6" stroke-linecap="round"/>
<line x1="1438.8" y1="1475.9" x2="1441.5" y2="1474.7" stroke="#e3e7ea" stroke-width="1.6" stroke-linecap="round"/>
<line x1="1435" y1="1471" x2="1437.7" y2="1469.8" stroke="#e3e7ea" stroke-width="1.6" stroke-linecap="round"/>
<line x1="1466" y1="1463.5" x2="1468.7" y2="1462.3" stroke="#e3e7ea" stroke-width="1.6" stroke-linecap="round"/>
<line x1="1462.4" y1="1458.6" x2="1465.1" y2="1457.4" stroke="#e3e7ea" stroke-width="1.6" stroke-linecap="round"/>
<line x1="1493.2" y1="1451.1" x2="1495.9" y2="1449.8" stroke="#e3e7ea" stroke-width="1.6" stroke-linecap="round"/>
<line x1="1489.8" y1="1446.2" x2="1492.5" y2="1445" stroke="#e3e7ea" stroke-width="1.6" stroke-linecap="round"/>
<line x1="1520.4" y1="1438.7" x2="1523.1" y2="1437.4" stroke="#e3e7ea" stroke-width="1.6" stroke-linecap="round"/>
<line x1="1517.2" y1="1433.9" x2="1519.9" y2="1432.6" stroke="#e3e7ea" stroke-width="1.6" stroke-linecap="round"/>
<line x1="1547.6" y1="1426.2" x2="1550.3" y2="1425" stroke="#e3e7ea" stroke-width="1.6" stroke-linecap="round"/>
<line x1="1544.6" y1="1421.5" x2="1547.3" y2="1420.3" stroke="#e3e7ea" stroke-width="1.6" stroke-linecap="round"/>
<polyline points="713,566.4 788.8,598.7 851.4,621.8" fill="none" stroke="#a4a4a4" stroke-width="3" />
<polyline points="1080.5,745.7 1194.3,777.7 1240.4,781 1301.4,768.8" fill="none" stroke="#b4b4b4" stroke-width="3" />
<polygon points="1194.3,778.4 1207.5,780 1207.5,849.2 1191,847.6 1184.4,809.7" fill="#8e8e8e" />
<path d="M 1204.2 710.8 C 1204.2 743.7 1240.4 753.6 1306.4 740.4 L 1306.4 766.8 C 1256.9 776.7 1207.5 770.1 1194.3 743.7 Z" fill="#efefef" filter="url(#b2)"/>
<polygon points="1227.3,630 1303.1,625.1 1306.4,634.9 1304.7,743.7 1240.4,740.4 1207.5,724 1204.2,707.5" fill="#f4f4f4" />
<polygon points="1647,384.3 1702.7,338.4 1935.9,449 1879.1,488.7" fill="url(#g9)" />
<polygon points="1647,404.5 1879.1,508.9 1879.1,613.3 1648.8,522.8" fill="#727c84" />
<polyline points="2141.4,1504.5 2199.1,1481.4 2275.6,1446.2" fill="none" stroke="#a4a4a4" stroke-width="3" />
<polyline points="1690.7,1666 1738.3,1679.8 1786,1665.5 1905.1,1620.2" fill="none" stroke="#b4b4b4" stroke-width="3" />
<path d="M 1784.8 1608.8 C 1783.6 1627.8 1738.3 1632.6 1683.5 1632.6 L 1684.7 1649.3 C 1738.3 1651.7 1786 1642.1 1795.5 1618.3 Z" fill="#efefef" filter="url(#b2)"/>
<polygon points="1682.3,1508.7 1757.4,1515.8 1766.9,1546.8 1786,1608.8 1778.8,1620.7 1714.5,1632.6 1683.5,1632.6" fill="#f4f4f4" />
<polygon points="1476.2,1327.4 1550.9,1367 1550.9,1391.9 1533.3,1388.9 1530.4,1375.8 1480.6,1347.9" fill="#0c77ad" />
<polygon points="1303.3,1482.7 1329.7,1472.5 1329.7,1491.5 1310.6,1498.8" fill="#0c77ad" />
<circle cx="1214.7" cy="801.4" r="2.6" fill="#fff"/>
<polygon points="1237.1,634.9 1301.4,629 1304.1,743.7 1273.4,745.4 1237.1,733.8 1220.7,724 1215.7,707.5" fill="#c2c2c2" />
<path d="M 801.6 488.8 C 801.6 475.6 808.9 471.2 817.7 474.1 L 851.4 494.7 C 857.3 499 859.3 504.9 859.3 513.7 L 859.3 541.5 C 858.8 551.8 852.9 553.3 845.6 548.9 L 808.9 525.4 C 803.1 519.6 801.6 513.7 801.6 504.9 Z" fill="none" stroke="#f2f2f2" stroke-width="2" />
<path d="M 803.4 489.7 C 803.4 476.5 810.7 472.1 819.5 475 L 853.2 495.5 C 859 499.9 861.1 505.8 861.1 514.6 L 861.1 542.4" fill="none" stroke="#8f8f8f" stroke-width="1.2" />
<path d="M 854.7 681.1 C 844.8 618.5 877.8 572.3 930.5 585.5 C 1009.7 618.5 1059.1 694.3 1080.5 746.4" fill="none" stroke="#bdbdbd" stroke-width="1.5" />
<polygon points="1702.7,333.1 1714.9,336.6 1939.3,446.2 1932.4,454.9 1697.5,345.3" fill="#40474c" />
<circle cx="1774.5" cy="1687.9" r="2.6" fill="#fff"/>
<polygon points="1687.1,1513.5 1750.2,1519.4 1762.1,1551.6 1776.4,1594.5 1774.1,1608.8 1714.5,1630.2 1688.3,1627.8" fill="#c2c2c2" />
<path d="M 2138.1 1522.6 C 2136.5 1456.7 2077.1 1450.1 2004.6 1499.6 C 1951.9 1542.4 1918.9 1608.4 1892.5 1674.3" fill="none" stroke="#bdbdbd" stroke-width="1.5" />
<polygon points="1589,1450.5 1370.7,1558.9 1370.7,1577.1 1589,1468.6" fill="#40474c" />
<polygon points="1255.3,634.9 1270.1,634.3 1273.4,743.7 1256.9,733.8" fill="#9d9d9d" />
<polygon points="1240.4,638.2 1253.6,636.9 1255.3,717.4 1240.4,710.8" fill="#dadada" />
<polygon points="1278.4,633.3 1301.4,630 1304.1,740.4 1283.3,724" fill="#aaaaaa" />
<polygon points="1214.1,710.8 1237.1,664.6 1237.1,730.5 1224,725.6" fill="#e2e2e2" />
<polyline points="1706.2,340.1 1934.1,450.4" fill="none" stroke="#6a737a" stroke-width="3" />
<polygon points="1646.3,372.5 1691.6,345.3 1720.1,348.8 1723.6,362.7 1674.9,391.2 1647,384.3" fill="#0c77ad" />
<polygon points="1692.3,334.9 1706.2,330.7 1716.6,336.6 1716.6,348.8 1692.3,345.3" fill="#3f464b" />
<polygon points="1647,383.6 1879.1,488 1879.1,513.7 1647,408.6" fill="#40474c" />
<polygon points="1712.1,1517 1724,1518.2 1725.2,1623.1 1713.3,1627.8" fill="#9d9d9d" />
<polygon points="1725.2,1519.4 1735.9,1520.6 1738.3,1608.8 1726.4,1618.3" fill="#dadada" />
<polygon points="1687.1,1513.5 1709.7,1515.8 1710.9,1627.8 1688.3,1627.8" fill="#aaaaaa" />
<polygon points="1740.7,1523 1750.2,1523 1774.1,1594.5 1762.1,1606.4 1752.6,1604" fill="#e2e2e2" />
<polyline points="1589,1451.6 1370.7,1560.1" fill="none" stroke="#687178" stroke-width="4" />
<polyline points="1589,1458.1 1370.7,1566.5" fill="none" stroke="#2c3135" stroke-width="5" />
<polyline points="1589,1463.6 1370.7,1572" fill="none" stroke="#5a6269" stroke-width="6" />
<polyline points="1681,391.3 1877.9,482.3" fill="none" stroke="#c9d0d5" stroke-width="1.2" stroke-dasharray="1.5 2.5" opacity="0.8"/>
<polyline points="1721.3,368.5 1918.3,460" fill="none" stroke="#c9d0d5" stroke-width="1" stroke-dasharray="1.5 2.5" opacity="0.6"/>
<polyline points="1701.3,384.1 1889.9,471.4" fill="none" stroke="#5a646b" stroke-width="1.2" />
<line x1="1715.7" y1="382.5" x2="1718.2" y2="383.6" stroke="#e3e7ea" stroke-width="1.6" stroke-linecap="round"/>
<line x1="1719.7" y1="380.2" x2="1722.2" y2="381.4" stroke="#e3e7ea" stroke-width="1.6" stroke-linecap="round"/>
<line x1="1740.8" y1="394.1" x2="1743.3" y2="395.3" stroke="#e3e7ea" stroke-width="1.6" stroke-linecap="round"/>
<line x1="1744.9" y1="391.9" x2="1747.4" y2="393" stroke="#e3e7ea" stroke-width="1.6" stroke-linecap="round"/>
<line x1="1766" y1="405.8" x2="1768.5" y2="406.9" stroke="#e3e7ea" stroke-width="1.6" stroke-linecap="round"/>
<line x1="1770" y1="403.5" x2="1772.5" y2="404.7" stroke="#e3e7ea" stroke-width="1.6" stroke-linecap="round"/>
<line x1="1791.1" y1="417.4" x2="1793.6" y2="418.6" stroke="#e3e7ea" stroke-width="1.6" stroke-linecap="round"/>
<line x1="1795.1" y1="415.2" x2="1797.6" y2="416.3" stroke="#e3e7ea" stroke-width="1.6" stroke-linecap="round"/>
<line x1="1816.2" y1="429.1" x2="1818.7" y2="430.3" stroke="#e3e7ea" stroke-width="1.6" stroke-linecap="round"/>
<line x1="1820.3" y1="426.8" x2="1822.8" y2="428" stroke="#e3e7ea" stroke-width="1.6" stroke-linecap="round"/>
<line x1="1841.4" y1="440.8" x2="1843.9" y2="441.9" stroke="#e3e7ea" stroke-width="1.6" stroke-linecap="round"/>
<line x1="1845.4" y1="438.5" x2="1847.9" y2="439.7" stroke="#e3e7ea" stroke-width="1.6" stroke-linecap="round"/>
<line x1="1866.5" y1="452.4" x2="1869" y2="453.6" stroke="#e3e7ea" stroke-width="1.6" stroke-linecap="round"/>
<line x1="1870.5" y1="450.2" x2="1873.1" y2="451.3" stroke="#e3e7ea" stroke-width="1.6" stroke-linecap="round"/>
<line x1="1891.6" y1="464.1" x2="1894.2" y2="465.2" stroke="#e3e7ea" stroke-width="1.6" stroke-linecap="round"/>
<line x1="1895.7" y1="461.8" x2="1898.2" y2="463" stroke="#e3e7ea" stroke-width="1.6" stroke-linecap="round"/>
<polyline points="1378.6,1616.9 1579.7,1514.2" fill="none" stroke="#c9d0d5" stroke-width="1.2" stroke-dasharray="1.5 2.5" opacity="0.8"/>
<polyline points="1378.6,1579.4 1579.7,1477.4" fill="none" stroke="#c9d0d5" stroke-width="1" stroke-dasharray="1.5 2.5" opacity="0.6"/>
<polyline points="1382.9,1599.7 1575.4,1501.7" fill="none" stroke="#5a646b" stroke-width="1.2" />
<line x1="1389.3" y1="1588.9" x2="1391.8" y2="1587.6" stroke="#e3e7ea" stroke-width="1.6" stroke-linecap="round"/>
<line x1="1389.3" y1="1585.2" x2="1391.8" y2="1583.9" stroke="#e3e7ea" stroke-width="1.6" stroke-linecap="round"/>
<line x1="1419.2" y1="1573.7" x2="1421.8" y2="1572.4" stroke="#e3e7ea" stroke-width="1.6" stroke-linecap="round"/>
<line x1="1419.2" y1="1570" x2="1421.8" y2="1568.7" stroke="#e3e7ea" stroke-width="1.6" stroke-linecap="round"/>
<line x1="1449.2" y1="1558.5" x2="1451.7" y2="1557.2" stroke="#e3e7ea" stroke-width="1.6" stroke-linecap="round"/>
<line x1="1449.2" y1="1554.7" x2="1451.7" y2="1553.4" stroke="#e3e7ea" stroke-width="1.6" stroke-linecap="round"/>
<line x1="1479.1" y1="1543.2" x2="1481.7" y2="1541.9" stroke="#e3e7ea" stroke-width="1.6" stroke-linecap="round"/>
<line x1="1479.1" y1="1539.5" x2="1481.7" y2="1538.2" stroke="#e3e7ea" stroke-width="1.6" stroke-linecap="round"/>
<line x1="1509.1" y1="1528" x2="1511.6" y2="1526.7" stroke="#e3e7ea" stroke-width="1.6" stroke-linecap="round"/>
<line x1="1509.1" y1="1524.3" x2="1511.6" y2="1523" stroke="#e3e7ea" stroke-width="1.6" stroke-linecap="round"/>
<line x1="1539" y1="1512.8" x2="1541.6" y2="1511.5" stroke="#e3e7ea" stroke-width="1.6" stroke-linecap="round"/>
<line x1="1539" y1="1509.1" x2="1541.6" y2="1507.8" stroke="#e3e7ea" stroke-width="1.6" stroke-linecap="round"/>
<line x1="1569" y1="1497.6" x2="1571.5" y2="1496.2" stroke="#e3e7ea" stroke-width="1.6" stroke-linecap="round"/>
<line x1="1569" y1="1493.9" x2="1571.5" y2="1492.6" stroke="#e3e7ea" stroke-width="1.6" stroke-linecap="round"/>
<polyline points="1647,385 1879.1,489.4" fill="none" stroke="#687178" stroke-width="4" />
<polyline points="1647,398.9 1879.1,504" fill="none" stroke="#5a6269" stroke-width="7" />
<polyline points="1647,391.9 1879.1,496.7" fill="none" stroke="#2c3135" stroke-width="6" />
<polygon points="1639.4,376.6 1647.7,380.8 1647.7,399.2 1639.4,395.8" fill="#0c77ad" />
<polygon points="1489.4,1409.5 1589,1447.5 1589,1471 1571.4,1469.5 1568.5,1456.3 1495.2,1424.1" fill="#0c77ad" />
<polygon points="1312.1,1548.6 1370.7,1560.4 1370.7,1583.8 1348.7,1585.3 1312.1,1570.6" fill="#0c77ad" />
<polygon points="1660.3,444.5 1876.7,545.4 1876.7,552.4 1646.3,449.7" fill="#747e86" />
<polygon points="1589,1514.4 1370.7,1624.8 1370.7,1643 1589,1532.5" fill="#40474c" />
<polygon points="1646.3,434 1670.7,421.2 1703.8,432.3 1705.5,444.5 1684.6,458.4 1646.3,446.9" fill="#0c77ad" />
<polygon points="1646.3,446.2 1878.4,550.6 1878.4,576.4 1646.3,471.3" fill="#40474c" />
<polygon points="1452.4,656.7 1487.5,647.9 1490.5,656.7 1455.3,665.5" fill="#dadada" />
<polygon points="1531.5,700.7 1566.7,691.9 1569.6,700.7 1534.4,709.5" fill="#dadada" />
<polygon points="1610.6,738.8 1645.8,730 1648.7,738.8 1613.6,747.5" fill="#dadada" />
<polyline points="1589,1515.5 1370.7,1626" fill="none" stroke="#687178" stroke-width="4" />
<polyline points="1589,1522 1370.7,1632.5" fill="none" stroke="#2c3135" stroke-width="5" />
<polyline points="1589,1527.4 1370.7,1637.9" fill="none" stroke="#5a6269" stroke-width="6" />
<polyline points="1646.3,447.6 1878.4,552" fill="none" stroke="#687178" stroke-width="4" />
<polyline points="1646.3,461.5 1878.4,566.6" fill="none" stroke="#5a6269" stroke-width="7" />
<polyline points="1646.3,454.6 1878.4,559.3" fill="none" stroke="#2c3135" stroke-width="6" />
<polygon points="1638.7,439.3 1647,443.4 1647,461.9 1638.7,458.4" fill="#0c77ad" />
<polygon points="1346.9,620.1 1390.8,606 1398.2,623 1355.7,636.2" fill="#e4e4e4" />
<polygon points="1437.7,677.2 1481.7,663.2 1489,680.1 1446.5,693.3" fill="#e4e4e4" />
<polygon points="1513.9,724.1 1557.9,710 1565.2,727 1522.7,740.2" fill="#e4e4e4" />
<polygon points="1596,765.1 1639.9,751.1 1647.3,768.1 1604.8,781.2" fill="#e4e4e4" />
<polygon points="1669.2,800.3 1713.2,786.2 1720.5,803.2 1678,816.4" fill="#e4e4e4" />
<polygon points="1527.5,1491.5 1589,1512.6 1589,1535.5 1571.4,1534 1568.5,1520.8 1531.9,1504.7" fill="#0c77ad" />
<polygon points="1312.1,1613.1 1370.7,1626.3 1370.7,1649.7 1348.7,1651.2 1312.1,1636.6" fill="#0c77ad" />
<polygon points="982.7,1575 1031.5,1550.7 1073.2,1547.2 1073.2,1630.7 1048.9,1630.7 1028,1602.9 986.2,1595.9" fill="#e8e8e8" />
<polygon points="993.2,1582 1031.5,1564.6 1062.8,1571.5 1028,1592.4" fill="#3c3c41" />
<polygon points="745,338.5 776.7,326.2 1289.9,575.6 1298,588 1291,595 1270,592" fill="#c9cdf1" />
<polygon points="1662.7,501.9 1879.1,602.8 1879.1,609.8 1648.8,507.1" fill="#747e86" />
<polygon points="1420.1,630.3 1433.3,630.3 1433.3,700.7 1420.1,700.7" fill="#acacac" />
<polygon points="1427.4,630.3 1433.3,630.3 1433.3,700.7 1427.4,700.7" fill="#8c8c8c" />
<polygon points="1493.4,671.4 1511.6,671.4 1511.6,738.8 1493.4,738.8" fill="#acacac" />
<polygon points="1503.4,671.4 1511.6,671.4 1511.6,738.8 1503.4,738.8" fill="#8c8c8c" />
<polygon points="1572.5,706.5 1590.7,706.5 1590.7,779.8 1572.5,779.8" fill="#acacac" />
<polygon points="1582.5,706.5 1590.7,706.5 1590.7,779.8 1582.5,779.8" fill="#8c8c8c" />
<polygon points="1654.6,747.5 1671.6,747.5 1671.6,817.9 1654.6,817.9" fill="#acacac" />
<polygon points="1663.9,747.5 1671.6,747.5 1671.6,817.9 1663.9,817.9" fill="#8c8c8c" />
<polygon points="1730.8,762.2 1740.4,762.2 1740.4,838.4 1730.8,838.4" fill="#acacac" />
<polygon points="1736.1,762.2 1740.4,762.2 1740.4,838.4 1736.1,838.4" fill="#8c8c8c" />
<polygon points="1757.1,732.9 1795.2,732.9 1795.2,812 1757.1,812" fill="#acacac" />
<polygon points="1778.1,732.9 1795.2,732.9 1795.2,812 1778.1,812" fill="#8c8c8c" />
<polygon points="1329.3,647.9 1342.5,643.5 1357.1,665.5 1330.8,661.1" fill="#a9a9a9" />
<polygon points="1420.1,697.7 1433.3,693.3 1448,715.3 1421.6,710.9" fill="#a9a9a9" />
<polygon points="1499.3,741.7 1512.5,737.3 1527.1,759.3 1500.7,754.9" fill="#a9a9a9" />
<polygon points="1578.4,782.7 1591.6,778.3 1606.2,800.3 1579.9,795.9" fill="#a9a9a9" />
<polygon points="1656,817.9 1669.2,813.5 1683.9,835.5 1657.5,831.1" fill="#a9a9a9" />
<polygon points="2215.6,1211.1 2245.9,1226.9 1712,1480 1700,1482 1690,1476 1689,1468 1697,1460" fill="#c9cdf1" />
<polyline points="1565.6,1403.6 1608.1,1388.9" fill="none" stroke="#2a9cc9" stroke-width="8" />
<polyline points="1583.2,1468.1 1608.1,1453.4" fill="none" stroke="#2a9cc9" stroke-width="8" />
<polygon points="967.1,1507.2 983.4,1512.4 983.4,1585.5 967.1,1580.2" fill="#c3c3c3" />
<polygon points="1073.2,1522.8 1107.3,1515.9 1107.3,1630.7 1073.2,1634.2" fill="#a8a8a8" />
<polygon points="1090.6,1519.3 1107.3,1515.9 1107.3,1630.7 1090.6,1632.4" fill="#9d9d9d" />
<polygon points="966.6,1506 981.4,1510.8 981.4,1587.8 967.7,1582.9" fill="#cbcbcb" />
<polygon points="981.4,1576.3 1035.9,1549.9 1066.7,1539.4 1066.7,1633.9 1053.5,1629.5 1013.9,1603.1 983.1,1585.6" fill="#ebebeb" />
<polygon points="989.7,1574.1 1029.3,1554.3 1035.9,1563.1 1013.9,1580.7 1049.1,1563.1 1057.9,1593.9 1018.3,1593.9 1000.7,1582.9" fill="#3c3c41" />
<polygon points="760,333 776.7,326.2 1289.9,575.6 1294,583 1275,578" fill="#dfe2fa" opacity="0.7"/>
<polygon points="1648.8,491.5 1673.1,478.6 1706.2,489.7 1707.9,501.9 1687.1,515.8 1648.8,504.3" fill="#0c77ad" />
<polygon points="1648.8,503.6 1880.9,608 1880.9,633.8 1648.8,528.7" fill="#40474c" />
<polygon points="1331.3,553.1 1344.2,553.1 1344.8,646.3 1332.3,649.2" fill="#b3b3b3" />
<polygon points="1419.8,597.3 1432.3,601.2 1432.3,668.5 1420.4,664.6" fill="#b0b0b0" />
<polygon points="2215.6,1211.1 2230.4,1219.3 1700,1472 1697,1460" fill="#dfe2fa" opacity="0.7"/>
<polygon points="1066.7,1536.7 1074.8,1540.3 1074.8,1640.5 1066.7,1633.9" fill="#a8a8a8" />
<polygon points="1074.8,1540.3 1106.3,1520.3 1107.6,1631.7 1074.8,1640.5" fill="#989898" />
<polygon points="1247.7,569.4 1258.3,564.6 1267.9,570.4 1257.3,575.2" fill="#8a8eb0" />
<polyline points="1648.8,505 1880.9,609.4" fill="none" stroke="#687178" stroke-width="4" />
<polyline points="1648.8,519 1880.9,624" fill="none" stroke="#5a6269" stroke-width="7" />
<polyline points="1648.8,512 1880.9,616.7" fill="none" stroke="#2c3135" stroke-width="6" />
<polygon points="1641.1,496.7 1649.5,500.9 1649.5,519.3 1641.1,515.8" fill="#0c77ad" />
<polygon points="1412.8,606.9 1502.2,562.3 1788.8,693.3 1692.7,748.1" fill="url(#g10)" />
<polygon points="1720.4,1456.3 1734.7,1451.5 1743.1,1456.3 1728.8,1462.2" fill="#8a8eb0" />
<polygon points="937.5,1470.6 1257,1311 1364,1352 1061,1508.9" fill="url(#g19)" />
<polygon points="1502.2,533.3 1822.2,680.7 1788.8,694.8 1502.2,563.5" fill="#40474c" />
<polygon points="1409.9,606.9 1692.1,750.5 1692.1,771.6 1409.9,628" fill="#40474c" />
<polygon points="1330,528.5 1424.6,576.2 1424.6,599.2 1330.8,554" fill="#989898" />
<polygon points="1332.3,527.7 1381.3,505 1381.3,512.7 1469.8,553.1 1424.6,576.2" fill="#cdcdcd" />
<polygon points="1424.6,576.2 1469.8,553.1 1469.8,564.6 1424.6,587.7" fill="#bcbcbc" />
<polygon points="937.5,1470.6 1257,1311 1271,1317 947.5,1482.6" fill="#40474c" />
<polygon points="1061,1508.9 1364,1352 1364,1379 1061,1537.9" fill="#40474c" />
<polygon points="1055,1498.9 1356,1343 1364,1352 1061,1508.9" fill="#5b646b" />
<polygon points="1862.8,482.8 1878.4,489.7 1878.4,508.9 1862.8,501.9" fill="#0c77ad" />
<polygon points="1871.5,536.7 1879.1,540.2 1879.1,575 1871.5,571.5" fill="#0c77ad" />
<polyline points="1505.1,535.4 1820.4,681.3" fill="none" stroke="#6b747b" stroke-width="4" />
<polyline points="1505.1,548.3 1805.5,687.5" fill="none" stroke="#5d666d" stroke-width="7" />
<polyline points="1505.1,541.8 1812.8,684.2" fill="none" stroke="#2d3236" stroke-width="6" />
<polyline points="1505.1,556.5 1796.7,690.7" fill="none" stroke="#2d3236" stroke-width="6" />
<polyline points="1410.5,608.6 1692.1,752.2" fill="none" stroke="#6b747b" stroke-width="4" />
<polyline points="1410.5,620.1 1692.1,763.7" fill="none" stroke="#596168" stroke-width="6" />
<polyline points="1410.5,614.5 1692.1,758.1" fill="none" stroke="#2c3135" stroke-width="5" />
<polygon points="1381.9,469.4 1416.9,452.1 1508.3,497.7 1475.6,515.6" fill="#9a9a9a" />
<polyline points="939.5,1472.6 1259,1313" fill="none" stroke="#6b747b" stroke-width="1.5" />
<polyline points="1061,1510.4 1364,1353.5" fill="none" stroke="#6b747b" stroke-width="1.5" />
<polyline points="1061,1517.9 1364,1360" fill="none" stroke="#2c3135" stroke-width="2" />
<polyline points="1061,1525.9 1364,1368" fill="none" stroke="#5a6269" stroke-width="2.5" />
<polygon points="937,1469.7 1017.2,1504.6 1017.2,1495 1061,1509.3" fill="#6f7981" />
<polyline points="1058.5,1500.1 1344.2,1353.1" fill="none" stroke="#c9d0d5" stroke-width="1.2" stroke-dasharray="1.5 2.5" opacity="0.8"/>
<polyline points="965.9,1474.4 1258.4,1324.4" fill="none" stroke="#c9d0d5" stroke-width="1" stroke-dasharray="1.5 2.5" opacity="0.6"/>
<polyline points="1027.6,1486.7 1303.7,1344.8" fill="none" stroke="#5a646b" stroke-width="1.2" />
<line x1="1018.4" y1="1476.8" x2="1022.1" y2="1474.9" stroke="#e3e7ea" stroke-width="1.6" stroke-linecap="round"/>
<line x1="1009.2" y1="1474.2" x2="1012.9" y2="1472.3" stroke="#e3e7ea" stroke-width="1.6" stroke-linecap="round"/>
<line x1="1047.1" y1="1462" x2="1050.8" y2="1460.1" stroke="#e3e7ea" stroke-width="1.6" stroke-linecap="round"/>
<line x1="1038" y1="1459.4" x2="1041.7" y2="1457.5" stroke="#e3e7ea" stroke-width="1.6" stroke-linecap="round"/>
<line x1="1075.9" y1="1447.2" x2="1079.6" y2="1445.3" stroke="#e3e7ea" stroke-width="1.6" stroke-linecap="round"/>
<line x1="1066.8" y1="1444.6" x2="1070.5" y2="1442.7" stroke="#e3e7ea" stroke-width="1.6" stroke-linecap="round"/>
<line x1="1104.7" y1="1432.4" x2="1108.4" y2="1430.5" stroke="#e3e7ea" stroke-width="1.6" stroke-linecap="round"/>
<line x1="1095.7" y1="1429.8" x2="1099.4" y2="1427.9" stroke="#e3e7ea" stroke-width="1.6" stroke-linecap="round"/>
<line x1="1133.4" y1="1417.7" x2="1137.1" y2="1415.8" stroke="#e3e7ea" stroke-width="1.6" stroke-linecap="round"/>
<line x1="1124.5" y1="1415" x2="1128.2" y2="1413.1" stroke="#e3e7ea" stroke-width="1.6" stroke-linecap="round"/>
<line x1="1162.2" y1="1402.9" x2="1165.9" y2="1401" stroke="#e3e7ea" stroke-width="1.6" stroke-linecap="round"/>
<line x1="1153.3" y1="1400.2" x2="1157" y2="1398.3" stroke="#e3e7ea" stroke-width="1.6" stroke-linecap="round"/>
<line x1="1191" y1="1388.1" x2="1194.7" y2="1386.2" stroke="#e3e7ea" stroke-width="1.6" stroke-linecap="round"/>
<line x1="1182.2" y1="1385.4" x2="1185.9" y2="1383.4" stroke="#e3e7ea" stroke-width="1.6" stroke-linecap="round"/>
<line x1="1219.7" y1="1373.3" x2="1223.4" y2="1371.4" stroke="#e3e7ea" stroke-width="1.6" stroke-linecap="round"/>
<line x1="1211" y1="1370.5" x2="1214.7" y2="1368.6" stroke="#e3e7ea" stroke-width="1.6" stroke-linecap="round"/>
<line x1="1248.5" y1="1358.6" x2="1252.2" y2="1356.7" stroke="#e3e7ea" stroke-width="1.6" stroke-linecap="round"/>
<line x1="1239.8" y1="1355.7" x2="1243.5" y2="1353.8" stroke="#e3e7ea" stroke-width="1.6" stroke-linecap="round"/>
<line x1="1277.3" y1="1343.8" x2="1281" y2="1341.9" stroke="#e3e7ea" stroke-width="1.6" stroke-linecap="round"/>
<line x1="1268.7" y1="1340.9" x2="1272.4" y2="1339" stroke="#e3e7ea" stroke-width="1.6" stroke-linecap="round"/>
<polygon points="1389.4,594.6 1472.9,552.7 1505.1,557.1 1502.2,562.9 1414.3,607.5 1411.4,618 1389.4,618" fill="#0c77ad" />
<polygon points="1692.1,750.5 1788.8,703 1788.8,684.5 1821.6,681.6 1822.5,713 1707.9,773 1692.1,771.6" fill="#0c77ad" />
<polygon points="1390,470.4 1416.9,456.9 1440,468.5 1413.1,481.9" fill="#7e7e7e" />
<polygon points="1422.7,487.7 1447.7,475.2 1470.8,486.7 1445.8,499.2" fill="#858585" />
<polygon points="1455.4,504 1478.5,492.5 1497.7,502.1 1475.6,514.6" fill="#8c8c8c" />
<polygon points="937,1469.7 1017.2,1504.2 1017.2,1494.5 1023.8,1492.8 1059,1506.4 1059,1538.9 1053.5,1543.3 937,1487.3" fill="#0c77ad" />
<polygon points="1257.9,1311.3 1367.8,1352.3 1367.8,1384.5 1359.3,1385.4 1359.3,1362.6 1337,1354.4 1337,1336.8 1328.2,1347.9 1254.9,1320.1" fill="#0c77ad" />
<polygon points="1389.4,601 1410.8,608.4 1410.8,628 1389.4,620.1" fill="#0a6190" />
<polygon points="1692.1,750.5 1708.8,755.8 1707.9,773 1692.1,771.6" fill="#0a6190" />
<polygon points="1381.9,469.4 1475.6,515.6 1475.6,551.2 1381.9,505" fill="#828282" />
<polygon points="1475.6,515.6 1508.3,497.7 1508.3,524.6 1475.6,551.2" fill="#adadad" />
<polygon points="954.9,1470.6 1019.3,1499.2 1019.3,1508.9 954.9,1481.1" fill="#737d85" opacity="0"/>
<polyline points="1388.1,495.4 1472.7,536.7" fill="none" stroke="#b5b5b5" stroke-width="5" />
<polyline points="1434.3,610.9 1693.8,738.1" fill="none" stroke="#c9d0d5" stroke-width="1.2" stroke-dasharray="1.5 2.5" opacity="0.8"/>
<polyline points="1504.8,575.5 1768.6,694.9" fill="none" stroke="#c9d0d5" stroke-width="1" stroke-dasharray="1.5 2.5" opacity="0.6"/>
<polyline points="1468,599.4 1718.2,718.2" fill="none" stroke="#5a646b" stroke-width="1.2" />
<line x1="1490.5" y1="596.2" x2="1493.9" y2="597.8" stroke="#e3e7ea" stroke-width="1.6" stroke-linecap="round"/>
<line x1="1497.6" y1="592.6" x2="1500.9" y2="594.2" stroke="#e3e7ea" stroke-width="1.6" stroke-linecap="round"/>
<line x1="1519.8" y1="609.9" x2="1523.1" y2="611.5" stroke="#e3e7ea" stroke-width="1.6" stroke-linecap="round"/>
<line x1="1526.9" y1="606.2" x2="1530.3" y2="607.8" stroke="#e3e7ea" stroke-width="1.6" stroke-linecap="round"/>
<line x1="1549.1" y1="623.6" x2="1552.4" y2="625.1" stroke="#e3e7ea" stroke-width="1.6" stroke-linecap="round"/>
<line x1="1556.2" y1="619.8" x2="1559.6" y2="621.4" stroke="#e3e7ea" stroke-width="1.6" stroke-linecap="round"/>
<line x1="1578.4" y1="637.3" x2="1581.7" y2="638.8" stroke="#e3e7ea" stroke-width="1.6" stroke-linecap="round"/>
<line x1="1585.6" y1="633.4" x2="1588.9" y2="635" stroke="#e3e7ea" stroke-width="1.6" stroke-linecap="round"/>
<line x1="1607.6" y1="650.9" x2="1611" y2="652.5" stroke="#e3e7ea" stroke-width="1.6" stroke-linecap="round"/>
<line x1="1614.9" y1="647" x2="1618.3" y2="648.6" stroke="#e3e7ea" stroke-width="1.6" stroke-linecap="round"/>
<line x1="1636.9" y1="664.6" x2="1640.3" y2="666.2" stroke="#e3e7ea" stroke-width="1.6" stroke-linecap="round"/>
<line x1="1644.2" y1="660.6" x2="1647.6" y2="662.2" stroke="#e3e7ea" stroke-width="1.6" stroke-linecap="round"/>
<line x1="1666.2" y1="678.3" x2="1669.5" y2="679.9" stroke="#e3e7ea" stroke-width="1.6" stroke-linecap="round"/>
<line x1="1673.6" y1="674.2" x2="1676.9" y2="675.8" stroke="#e3e7ea" stroke-width="1.6" stroke-linecap="round"/>
<line x1="1695.5" y1="692" x2="1698.8" y2="693.6" stroke="#e3e7ea" stroke-width="1.6" stroke-linecap="round"/>
<line x1="1702.9" y1="687.8" x2="1706.2" y2="689.4" stroke="#e3e7ea" stroke-width="1.6" stroke-linecap="round"/>
<line x1="1724.8" y1="705.7" x2="1728.1" y2="707.2" stroke="#e3e7ea" stroke-width="1.6" stroke-linecap="round"/>
<line x1="1732.2" y1="701.4" x2="1735.6" y2="703" stroke="#e3e7ea" stroke-width="1.6" stroke-linecap="round"/>
<polygon points="1349,659.3 1384.3,677.9 1384.3,692.9 1349,674.3" fill="#2b2fa6" />
<polygon points="1393.2,682.6 1419.7,696.5 1419.7,711.5 1393.2,697.6" fill="#b4aa1d" />
<polygon points="1446.3,710.5 1481.7,729.1 1481.7,744.1 1446.3,725.5" fill="#2b2fa6" />
<polygon points="1490.5,733.8 1517,747.7 1517,762.7 1490.5,748.8" fill="#b4aa1d" />
<polygon points="1543.6,761.7 1579,780.3 1579,795.3 1543.6,776.7" fill="#2b2fa6" />
<polygon points="1587.8,784.9 1614.3,798.9 1614.3,813.9 1587.8,799.9" fill="#b4aa1d" />
<polygon points="1640.9,812.9 1676.3,831.5 1676.3,846.5 1640.9,827.9" fill="#2b2fa6" />
<polygon points="1685.1,836.1 1711.7,850.1 1711.7,865.1 1685.1,851.1" fill="#b4aa1d" />
<polygon points="1735.5,862.7 1764.7,878 1764.7,893 1735.5,877.7" fill="#2b2fa6" />
<polygon points="963.3,1679.7 983.1,1688.5 983.1,1695.1 965.5,1690.7" fill="#2a2c2e" />
<polygon points="1152.4,1769.8 1185.4,1785.2 1183.2,1794 1152.4,1783" fill="#2a2c2e" />
<polygon points="1305.9,661.1 1663.4,841.3 1765.9,895 1766.5,921 1305.9,674.3" fill="#1b1c1d" />
<polygon points="1765.9,895 2085.5,725.5 2088.2,760.2 1766.5,921" fill="#1b1c1d" />
<polygon points="902,1624 1221,1788 1222,1806 901,1645" fill="#1b1c1d" />
<polygon points="1221,1788 1683,1550 1684,1565 1222,1806" fill="#1b1c1d" />
<polyline points="1768,908 2087,742" fill="none" stroke="#4a4d4f" stroke-width="2" />
<polyline points="904,1636 1221,1797" fill="none" stroke="#4a4d4f" stroke-width="1.5" />
<polygon points="1139.5,1755.5 1180.7,1773.9 1180.7,1789.4 1139.5,1774.9" fill="#b9bbdc" />
<polygon points="1277.8,1743.3 1326.4,1726.4 1328.8,1743.3 1280.2,1760.3" fill="#d9d9d9" />
<polygon points="1151.6,1774.9 1200.2,1789.4 1222,1801.6 1219.6,1808.9 1154.1,1784.6" fill="#2a2c2e" />
<polygon points="902.9,1619.2 1020.5,1673.1 1050.2,1659.9 1053.5,1688.5 901.8,1634.6" fill="#1c1d1e" />
<polygon points="1724.9,841.3 1827.5,795.9 1836.3,814.9 1871.4,817.9 1871.4,841.3 1765.9,891.1 1724.9,871.2" fill="#b9bde2" />
<polygon points="946.9,1574.6 1049.1,1625.8 1049.5,1639 1035.9,1644.9 948,1603.1 943.6,1582.9" fill="#b1b5d8" />
<polygon points="904,1593.9 912.8,1598.8 941.4,1580.7 946.9,1574.6 948,1603.1 923.8,1614.1 904,1620.7" fill="#bcc0e4" />
<polygon points="938.1,1655.5 957.8,1664.3 957.8,1676.4 938.1,1667.6" fill="#b9bbdc" />
<polygon points="1045.8,1705 1077.7,1719.2 1077.7,1736.8 1045.8,1722.5" fill="#c9c9c9" />
<polygon points="1139.2,1740.1 1178.8,1757.7 1178.8,1774.2 1139.2,1756.6" fill="#b9bbdc" />
<polygon points="1275.6,1752.2 1322.8,1730.2 1323.9,1743.4 1276.7,1765.4" fill="#d6d6d6" />
<polygon points="1730.8,863.3 1827.5,817.9 1845.1,825.2 1751.3,873.6" fill="#d3d6f6" />
<polygon points="1765.9,864.8 1871.4,817.9 1871.4,841.9 1765.9,891.1" fill="#a7abd0" />
<polygon points="1804,888.2 1824.5,880.9 1824.5,899.9 1804,908.7" fill="#c9c9d6" />
<polygon points="923.8,1613.7 948,1603.1 1035.9,1644.9 1011.7,1656.6" fill="#d6d9fb" />
<polygon points="1020.5,1646.7 1050.2,1626.9 1050.2,1659.9 1020.5,1673.5" fill="#a9add2" />
<polyline points="1278.9,1759.9 1321.7,1739.5" fill="none" stroke="#1c1d1e" stroke-width="5" stroke-dasharray="3 2"/>
<polygon points="2066.4,480.6 2078.9,481.8 2080.6,561.2 2068.7,565.9" fill="#a2a2a2" />
<polygon points="2068.7,563.6 2080.6,559.3 2080.6,563.6 2068.7,567.8" fill="#6e6e6e" />
<polygon points="904,1594.4 909.5,1591.7 913.9,1599.4 923.8,1613.7 983.1,1637.9 991.9,1631.3 1013.9,1656.6 1020.5,1646.7 1020.5,1673.5 904,1620.7" fill="#b7bbe0" />
<text transform="translate(1782.1,877.9) rotate(-24) skewX(-20)" font-size="9.5" style="fill:#fff" font-weight="bold" textLength="62" lengthAdjust="spacingAndGlyphs">ADRIAN STEEL</text>
<polygon points="1879.1,481.8 1971.6,435.6 2003.6,448.6 2077,480.6 2077,484.9 1972.7,529.9" fill="#d4d4d4" />
<polygon points="1879.1,481.8 1972.7,529.9 1973.9,788.7 1882.7,750.8" fill="url(#g11)" />
<polygon points="1972.7,529.9 2062.8,487.7 2068,741.3 1973.9,788.7" fill="#c6ccce" />
<polygon points="1109.9,1462.2 1203.7,1413.8 1298.9,1461.6 1206.6,1512.6" fill="#d6d6d6" />
<polygon points="1206.6,1512.6 1298.9,1461.6 1297.1,1721.5 1205.1,1761.1" fill="url(#g20)" />
<polygon points="1109.9,1462.2 1206.6,1512.6 1205.1,1761.1 1112.8,1722.4" fill="#c6ccce" />
<text transform="translate(927.1,1628.7) rotate(24.5) skewX(20)" font-size="9.5" fill="#ffffff" style="fill:#fff" font-weight="bold" textLength="62" lengthAdjust="spacingAndGlyphs">ADRIAN STEEL</text>
<polyline points="1879.8,596.7 1972.7,641.8" fill="none" stroke="#b4b4b4" stroke-width="2" stroke-dasharray="2 3"/>
<polygon points="1975.6,541.3 2053.3,505 2053.3,529.7 1975.6,566.1" fill="#1f9bc8" />
<polygon points="1975.6,578.3 2053.3,541.9 2053.3,566.7 1975.6,603.1" fill="#1f9bc8" />
<polygon points="1975.6,615.3 2053.3,578.9 2053.3,603.7 1975.6,640" fill="#1f9bc8" />
<polygon points="1975.6,652.2 2053.3,615.9 2053.3,640.7 1975.6,677" fill="#1f9bc8" />
<polygon points="1975.6,689.2 2053.3,652.9 2053.3,677.6 1975.6,714" fill="#1f9bc8" />
<polygon points="1975.6,726.2 2053.3,689.8 2053.3,714.6 1975.6,751" fill="#1f9bc8" />
<polygon points="1975.6,763.2 2053.3,726.8 2053.3,751.6 1975.6,787.9" fill="#1f9bc8" />
<polyline points="1206.6,1616 1298.3,1570.6" fill="none" stroke="#b4b4b4" stroke-width="2" stroke-dasharray="2 3"/>
<polygon points="1116.7,1481.6 1198.8,1524.4 1198.8,1548.7 1116.7,1505.9" fill="#1f9bc8" />
<polygon points="1116.7,1517.9 1198.8,1560.7 1198.8,1585.1 1116.7,1542.3" fill="#1f9bc8" />
<polygon points="1116.7,1554.3 1198.8,1597 1198.8,1621.4 1116.7,1578.6" fill="#1f9bc8" />
<polygon points="1116.7,1590.6 1198.8,1633.4 1198.8,1657.7 1116.7,1614.9" fill="#1f9bc8" />
<polygon points="1116.7,1626.9 1198.8,1669.7 1198.8,1694.1 1116.7,1651.3" fill="#1f9bc8" />
<polygon points="1116.7,1663.3 1198.8,1706.1 1198.8,1730.4 1116.7,1687.6" fill="#1f9bc8" />
<polygon points="1116.7,1699.6 1198.8,1742.4 1198.8,1766.7 1116.7,1723.9" fill="#1f9bc8" />
<polygon points="1973.9,529.9 2059.3,490 2059.3,501.1 1973.9,543.2" fill="#d5dee1" />
<polygon points="1973.9,541 2059.3,498.8 2059.3,501.1 1973.9,543.2" fill="#b9c5c9" />
<polygon points="1973.9,566.9 2059.3,526.9 2059.3,538 1973.9,580.2" fill="#d5dee1" />
<polygon points="1973.9,578 2059.3,535.8 2059.3,538 1973.9,580.2" fill="#b9c5c9" />
<polygon points="1973.9,603.9 2059.3,563.9 2059.3,575 1973.9,617.2" fill="#d5dee1" />
<polygon points="1973.9,614.9 2059.3,572.8 2059.3,575 1973.9,617.2" fill="#b9c5c9" />
<polygon points="1973.9,640.8 2059.3,600.9 2059.3,612 1973.9,654.1" fill="#d5dee1" />
<polygon points="1973.9,651.9 2059.3,609.8 2059.3,612 1973.9,654.1" fill="#b9c5c9" />
<polygon points="1973.9,677.8 2059.3,637.9 2059.3,649 1973.9,691.1" fill="#d5dee1" />
<polygon points="1973.9,688.9 2059.3,646.7 2059.3,649 1973.9,691.1" fill="#b9c5c9" />
<polygon points="1973.9,714.8 2059.3,674.8 2059.3,685.9 1973.9,728.1" fill="#d5dee1" />
<polygon points="1973.9,725.9 2059.3,683.7 2059.3,685.9 1973.9,728.1" fill="#b9c5c9" />
<polygon points="1973.9,751.8 2059.3,711.8 2059.3,722.9 1973.9,765.1" fill="#d5dee1" />
<polygon points="1973.9,762.9 2059.3,720.7 2059.3,722.9 1973.9,765.1" fill="#b9c5c9" />
<polygon points="1114.9,1468.6 1205.1,1515.7 1205.1,1526.6 1114.9,1481.7" fill="#d5dee1" />
<polygon points="1114.9,1479.5 1205.1,1524.4 1205.1,1526.6 1114.9,1481.7" fill="#b9c5c9" />
<polygon points="1114.9,1505 1205.1,1552 1205.1,1562.9 1114.9,1518.1" fill="#d5dee1" />
<polygon points="1114.9,1515.9 1205.1,1560.7 1205.1,1562.9 1114.9,1518.1" fill="#b9c5c9" />
<polygon points="1114.9,1541.3 1205.1,1588.3 1205.1,1599.2 1114.9,1554.4" fill="#d5dee1" />
<polygon points="1114.9,1552.2 1205.1,1597.1 1205.1,1599.2 1114.9,1554.4" fill="#b9c5c9" />
<polygon points="1114.9,1577.7 1205.1,1624.7 1205.1,1635.6 1114.9,1590.7" fill="#d5dee1" />
<polygon points="1114.9,1588.6 1205.1,1633.4 1205.1,1635.6 1114.9,1590.7" fill="#b9c5c9" />
<polygon points="1114.9,1614 1205.1,1661 1205.1,1671.9 1114.9,1627.1" fill="#d5dee1" />
<polygon points="1114.9,1624.9 1205.1,1669.7 1205.1,1671.9 1114.9,1627.1" fill="#b9c5c9" />
<polygon points="1114.9,1650.3 1205.1,1697.4 1205.1,1708.3 1114.9,1663.4" fill="#d5dee1" />
<polygon points="1114.9,1661.2 1205.1,1706.1 1205.1,1708.3 1114.9,1663.4" fill="#b9c5c9" />
<polygon points="1114.9,1686.7 1205.1,1733.7 1205.1,1744.6 1114.9,1699.7" fill="#d5dee1" />
<polygon points="1114.9,1697.6 1205.1,1742.4 1205.1,1744.6 1114.9,1699.7" fill="#b9c5c9" />
<polygon points="1985.9,527.3 1997.8,521.7 1997.8,545.3 1985.9,550.9" fill="#0b0b0c" />
<polygon points="2038.8,502.5 2049,497.7 2049,521.4 2038.8,526.2" fill="#0b0b0c" />
<polygon points="2001.2,530.4 2020.9,517.5 2032,513.8 2032,531.6 2001.2,548.9" fill="#474c50" />
<polygon points="1985.9,564.2 1997.8,558.7 1997.8,582.3 1985.9,587.9" fill="#0b0b0c" />
<polygon points="2038.8,539.5 2049,534.7 2049,558.4 2038.8,563.1" fill="#0b0b0c" />
<polygon points="2001.2,567.4 2020.9,554.5 2032,550.8 2032,568.6 2001.2,585.9" fill="#474c50" />
<polygon points="1985.9,601.2 1997.8,595.6 1997.8,619.3 1985.9,624.9" fill="#0b0b0c" />
<polygon points="2038.8,576.5 2049,571.7 2049,595.3 2038.8,600.1" fill="#0b0b0c" />
<polygon points="2001.2,604.4 2020.9,591.5 2032,587.8 2032,605.5 2001.2,622.9" fill="#474c50" />
<polygon points="1985.9,638.2 1997.8,632.6 1997.8,656.3 1985.9,661.9" fill="#0b0b0c" />
<polygon points="2038.8,613.4 2049,608.6 2049,632.3 2038.8,637.1" fill="#0b0b0c" />
<polygon points="2001.2,641.4 2020.9,628.5 2032,624.8 2032,642.5 2001.2,659.9" fill="#474c50" />
<polygon points="1985.9,675.2 1997.8,669.6 1997.8,693.2 1985.9,698.8" fill="#0b0b0c" />
<polygon points="2038.8,650.4 2049,645.6 2049,669.3 2038.8,674.1" fill="#0b0b0c" />
<polygon points="2001.2,678.3 2020.9,665.5 2032,661.7 2032,679.5 2001.2,696.8" fill="#474c50" />
<polygon points="1985.9,712.2 1997.8,706.6 1997.8,730.2 1985.9,735.8" fill="#0b0b0c" />
<polygon points="2038.8,687.4 2049,682.6 2049,706.3 2038.8,711.1" fill="#0b0b0c" />
<polygon points="2001.2,715.3 2020.9,702.4 2032,698.7 2032,716.5 2001.2,733.8" fill="#474c50" />
<polygon points="1985.9,749.1 1997.8,743.5 1997.8,767.2 1985.9,772.8" fill="#0b0b0c" />
<polygon points="2038.8,724.4 2049,719.6 2049,743.2 2038.8,748" fill="#0b0b0c" />
<polygon points="2001.2,752.3 2020.9,739.4 2032,735.7 2032,753.4 2001.2,770.8" fill="#474c50" />
<polygon points="1127.5,1478.1 1140.1,1484.7 1140.1,1508 1127.5,1501.4" fill="#0b0b0c" />
<polygon points="1183.5,1507.3 1194.3,1512.9 1194.3,1536.2 1183.5,1530.5" fill="#0b0b0c" />
<polygon points="1143.8,1496.8 1164.5,1504 1176.2,1511.5 1176.2,1529 1143.8,1514.9" fill="#474c50" />
<polygon points="1127.5,1514.5 1140.1,1521.1 1140.1,1544.3 1127.5,1537.7" fill="#0b0b0c" />
<polygon points="1183.5,1543.6 1194.3,1549.3 1194.3,1572.5 1183.5,1566.9" fill="#0b0b0c" />
<polygon points="1143.8,1533.1 1164.5,1540.3 1176.2,1547.9 1176.2,1565.3 1143.8,1551.3" fill="#474c50" />
<polygon points="1127.5,1550.8 1140.1,1557.4 1140.1,1580.6 1127.5,1574.1" fill="#0b0b0c" />
<polygon points="1183.5,1580 1194.3,1585.6 1194.3,1608.9 1183.5,1603.2" fill="#0b0b0c" />
<polygon points="1143.8,1569.4 1164.5,1576.6 1176.2,1584.2 1176.2,1601.6 1143.8,1587.6" fill="#474c50" />
<polygon points="1127.5,1587.1 1140.1,1593.7 1140.1,1617 1127.5,1610.4" fill="#0b0b0c" />
<polygon points="1183.5,1616.3 1194.3,1621.9 1194.3,1645.2 1183.5,1639.6" fill="#0b0b0c" />
<polygon points="1143.8,1605.8 1164.5,1613 1176.2,1620.5 1176.2,1638 1143.8,1624" fill="#474c50" />
<polygon points="1127.5,1623.5 1140.1,1630.1 1140.1,1653.3 1127.5,1646.7" fill="#0b0b0c" />
<polygon points="1183.5,1652.6 1194.3,1658.3 1194.3,1681.5 1183.5,1675.9" fill="#0b0b0c" />
<polygon points="1143.8,1642.1 1164.5,1649.3 1176.2,1656.9 1176.2,1674.3 1143.8,1660.3" fill="#474c50" />
<polygon points="1127.5,1659.8 1140.1,1666.4 1140.1,1689.7 1127.5,1683.1" fill="#0b0b0c" />
<polygon points="1183.5,1689 1194.3,1694.6 1194.3,1717.9 1183.5,1712.2" fill="#0b0b0c" />
<polygon points="1143.8,1678.5 1164.5,1685.6 1176.2,1693.2 1176.2,1710.6 1143.8,1696.6" fill="#474c50" />
<polygon points="1127.5,1696.2 1140.1,1702.7 1140.1,1726 1127.5,1719.4" fill="#0b0b0c" />
<polygon points="1183.5,1725.3 1194.3,1731 1194.3,1754.2 1183.5,1748.6" fill="#0b0b0c" />
<polygon points="1143.8,1714.8 1164.5,1722 1176.2,1729.5 1176.2,1747 1143.8,1733" fill="#474c50" />
<polygon points="2004.6,531.8 2020.9,521.2 2028.5,519.1 2028.5,522.8 2004.6,537" fill="#5c6266" />
<polygon points="2004.6,568.8 2020.9,558.2 2028.5,556.1 2028.5,559.8 2004.6,573.9" fill="#5c6266" />
<polygon points="2004.6,605.7 2020.9,595.2 2028.5,593.1 2028.5,596.8 2004.6,610.9" fill="#5c6266" />
<polygon points="2004.6,642.7 2020.9,632.2 2028.5,630.1 2028.5,633.8 2004.6,647.9" fill="#5c6266" />
<polygon points="2004.6,679.7 2020.9,669.2 2028.5,667 2028.5,670.7 2004.6,684.9" fill="#5c6266" />
<polygon points="2004.6,716.7 2020.9,706.1 2028.5,704 2028.5,707.7 2004.6,721.9" fill="#5c6266" />
<polygon points="2004.6,753.7 2020.9,743.1 2028.5,741 2028.5,744.7 2004.6,758.8" fill="#5c6266" />
<polygon points="1147.4,1501.6 1164.5,1507.6 1172.6,1513.3 1172.6,1516.9 1147.4,1506.6" fill="#5c6266" />
<polygon points="1147.4,1537.9 1164.5,1543.9 1172.6,1549.6 1172.6,1553.2 1147.4,1543" fill="#5c6266" />
<polygon points="1147.4,1574.2 1164.5,1580.3 1172.6,1585.9 1172.6,1589.6 1147.4,1579.3" fill="#5c6266" />
<polygon points="1147.4,1610.6 1164.5,1616.6 1172.6,1622.3 1172.6,1625.9 1147.4,1615.7" fill="#5c6266" />
<polygon points="1147.4,1646.9 1164.5,1652.9 1172.6,1658.6 1172.6,1662.3 1147.4,1652" fill="#5c6266" />
<polygon points="1147.4,1683.2 1164.5,1689.3 1172.6,1695 1172.6,1698.6 1147.4,1688.3" fill="#5c6266" />
<polygon points="1147.4,1719.6 1164.5,1725.6 1172.6,1731.3 1172.6,1734.9 1147.4,1724.7" fill="#5c6266" />
<polygon points="2059.3,489.6 2067.6,485.8 2068,741.3 2060.4,745.1" fill="#aaaeb0" />
<polygon points="2005.9,766.2 2045,748.4 2045,769.8 2005.9,788.7" fill="#c5c7e6" />
<polygon points="2033.2,776.9 2100.7,757.9 2103.1,766.2 2048.6,788.7" fill="#2a2c2e" />
<polygon points="1109,1462.2 1115.5,1465.1 1117.2,1723.6 1111.9,1721.8" fill="#b2b6b8" />
<polygon points="1217.4,1521.7 1299.5,1485.6 1310,1496.8 1234.4,1532.5" fill="#cfcfcf" />
<polygon points="1217.4,1522.6 1234.4,1532.5 1310,1497.4 1311.2,1577.9 1240.3,1610.2 1219.2,1599.9" fill="url(#g21)" />
<path d="M 1217.4 1558.9 C 1215.4 1588.2 1216.8 1605.8 1234.4 1610.2 C 1249.1 1611.6 1287.2 1588.2 1311.2 1575" fill="none" stroke="#2a2c2e" stroke-width="2.2" />
<circle cx="1402.6" cy="604" r="1.8" fill="#d9dde0"/>
<circle cx="1464.1" cy="571.7" r="1.8" fill="#d9dde0"/>
<circle cx="1783.5" cy="697.7" r="1.8" fill="#d9dde0"/>
<circle cx="1811.4" cy="693.3" r="1.8" fill="#d9dde0"/>
<circle cx="1698.5" cy="762.2" r="1.8" fill="#d9dde0"/>
<circle cx="1683.6" cy="359.2" r="1.8" fill="#d9dde0"/>
<circle cx="1655.7" cy="383.6" r="1.8" fill="#d9dde0"/>
<circle cx="1685.3" cy="423.6" r="1.8" fill="#d9dde0"/>
<circle cx="1685.3" cy="484.5" r="1.8" fill="#d9dde0"/>
<circle cx="1873.2" cy="491.5" r="1.8" fill="#d9dde0"/>
<circle cx="1875" cy="548.9" r="1.8" fill="#d9dde0"/>
<circle cx="1306.2" cy="1356.7" r="1.8" fill="#d9dde0"/>
<circle cx="1326.7" cy="1350.8" r="1.8" fill="#d9dde0"/>
<circle cx="1363.4" cy="1356.7" r="1.8" fill="#d9dde0"/>
<circle cx="1515.8" cy="1347.9" r="1.8" fill="#d9dde0"/>
<circle cx="1536.3" cy="1372.8" r="1.8" fill="#d9dde0"/>
<circle cx="1572.9" cy="1459.3" r="1.8" fill="#d9dde0"/>
<circle cx="1572.9" cy="1523.7" r="1.8" fill="#d9dde0"/>
<circle cx="1366.3" cy="1563.3" r="1.8" fill="#d9dde0"/>
<circle cx="1366.3" cy="1629.2" r="1.8" fill="#d9dde0"/>
<circle cx="1524.5" cy="1503.2" r="1.8" fill="#d9dde0"/>
<circle cx="983.1" cy="1501.6" r="1.8" fill="#d9dde0"/>
<circle cx="1009.5" cy="1512.1" r="1.8" fill="#d9dde0"/>
<circle cx="1056.8" cy="1510.4" r="1.8" fill="#d9dde0"/>
<circle cx="1056.8" cy="1528" r="1.8" fill="#d9dde0"/>
<line x1="1534" y1="214.5" x2="1560.3" y2="433.1" stroke="#000" stroke-width="2"/>
<polygon points="1564.6,468.8 1554.8,433.7 1565.8,432.4" fill="#000"/>
<line x1="1661.6" y1="246.1" x2="1628" y2="348.7" stroke="#000" stroke-width="2"/>
<polygon points="1616.8,382.9 1622.8,347 1633.2,350.4" fill="#000"/>
<line x1="1825.1" y1="299.1" x2="1800.4" y2="337.6" stroke="#000" stroke-width="2"/>
<polygon points="1781,367.9 1795.8,334.6 1805.1,340.6" fill="#000"/>
<line x1="2047.4" y1="413.4" x2="1979.4" y2="481" stroke="#000" stroke-width="2"/>
<circle cx="1979.4" cy="481" r="3" fill="#000"/>
<line x1="2156" y1="606.8" x2="2098.5" y2="653.3" stroke="#000" stroke-width="2"/>
<polygon points="2070.5,675.9 2095,649 2102,657.6" fill="#000"/>
<line x1="1302" y1="874.1" x2="1399.7" y2="537.4" stroke="#000" stroke-width="2"/>
<circle cx="1399.7" cy="537.4" r="3" fill="#000"/>
<line x1="1414.7" y1="860.6" x2="1395.5" y2="712.9" stroke="#000" stroke-width="2"/>
<polygon points="1390.8,677.2 1400.9,712.2 1390,713.6" fill="#000"/>
<line x1="1501.4" y1="878" x2="1484.7" y2="762" stroke="#000" stroke-width="2"/>
<polygon points="1479.6,726.4 1490.2,761.3 1479.3,762.8" fill="#000"/>
<line x1="1533.2" y1="897.8" x2="1665.8" y2="854.1" stroke="#000" stroke-width="2"/>
<polygon points="1700,842.8 1667.5,859.3 1664.1,848.8" fill="#000"/>
<line x1="1956.1" y1="870.5" x2="1891.9" y2="596.8" stroke="#000" stroke-width="2"/>
<polygon points="1883.7,561.8 1897.3,595.6 1886.6,598.1" fill="#000"/>
<line x1="778.4" y1="1545" x2="891.8" y2="1605.1" stroke="#000" stroke-width="2"/>
<polygon points="923.6,1622 889.2,1610 894.4,1600.3" fill="#000"/>
<line x1="973.7" y1="1396.4" x2="981.6" y2="1457.5" stroke="#000" stroke-width="2"/>
<polygon points="986.2,1493.2 976.1,1458.2 987.1,1456.8" fill="#000"/>
<line x1="1184.3" y1="1243.9" x2="1196.5" y2="1303.1" stroke="#000" stroke-width="2"/>
<polygon points="1203.7,1338.4 1191.1,1304.2 1201.9,1302" fill="#000"/>
<line x1="1303.5" y1="1150.5" x2="1381.2" y2="1281.4" stroke="#000" stroke-width="2"/>
<polygon points="1399.6,1312.3 1376.5,1284.2 1385.9,1278.5" fill="#000"/>
<line x1="1976" y1="1599.5" x2="1606.1" y2="1495.8" stroke="#000" stroke-width="2"/>
<polygon points="1571.4,1486.1 1607.5,1490.5 1604.6,1501.1" fill="#000"/>
<line x1="1591.2" y1="1714.5" x2="1417.4" y2="1650.4" stroke="#000" stroke-width="2"/>
<polygon points="1383.6,1638 1419.3,1645.3 1415.5,1655.6" fill="#000"/>
<line x1="1149.2" y1="1850.9" x2="1259.3" y2="1582.5" stroke="#000" stroke-width="2"/>
<polygon points="1273,1549.2 1264.4,1584.6 1254.2,1580.4" fill="#000"/>
<line x1="733.6" y1="1830.2" x2="1012.8" y2="1733.2" stroke="#000" stroke-width="2"/>
<polygon points="1046.8,1721.4 1014.6,1738.4 1011,1728" fill="#000"/>
<circle cx="1530.5" cy="185.5" r="29.2" fill="#fff" stroke="#000" stroke-width="2"/>
<circle cx="1670.7" cy="218.3" r="29.2" fill="#fff" stroke="#000" stroke-width="2"/>
<circle cx="1840.9" cy="274.5" r="29.2" fill="#fff" stroke="#000" stroke-width="2"/>
<circle cx="2068.1" cy="392.8" r="29.2" fill="#fff" stroke="#000" stroke-width="2"/>
<circle cx="2178.7" cy="588.5" r="29.2" fill="#fff" stroke="#000" stroke-width="2"/>
<circle cx="1293.9" cy="902.1" r="29.2" fill="#fff" stroke="#000" stroke-width="2"/>
<circle cx="1418.5" cy="889.6" r="29.2" fill="#fff" stroke="#000" stroke-width="2"/>
<circle cx="1505.5" cy="906.9" r="29.2" fill="#fff" stroke="#000" stroke-width="2"/>
<circle cx="1962.8" cy="898.9" r="29.2" fill="#fff" stroke="#000" stroke-width="2"/>
<circle cx="744.4" cy="1527" r="38.5" fill="#fff" stroke="#000" stroke-width="2"/>
<circle cx="968.8" cy="1358.2" r="38.5" fill="#fff" stroke="#000" stroke-width="2"/>
<circle cx="1176.6" cy="1206.2" r="38.5" fill="#fff" stroke="#000" stroke-width="2"/>
<circle cx="1283.8" cy="1117.4" r="38.5" fill="#fff" stroke="#000" stroke-width="2"/>
<circle cx="2013.1" cy="1609.9" r="38.5" fill="#fff" stroke="#000" stroke-width="2"/>
<circle cx="1627.3" cy="1727.8" r="38.5" fill="#fff" stroke="#000" stroke-width="2"/>
<circle cx="1134.6" cy="1886.5" r="38.5" fill="#fff" stroke="#000" stroke-width="2"/>
<text x="1530.5" y="204.3" font-size="52" text-anchor="middle">1</text>
<text x="1670.7" y="237.1" font-size="52" text-anchor="middle">2</text>
<text x="1840.9" y="293.3" font-size="52" text-anchor="middle">3</text>
<text x="2068.1" y="411.6" font-size="52" text-anchor="middle">4</text>
<text x="2178.7" y="607.3" font-size="52" text-anchor="middle">5</text>
<text x="1293.9" y="920.9" font-size="52" text-anchor="middle">6</text>
<text x="1418.5" y="908.4" font-size="52" text-anchor="middle">7</text>
<text x="1505.5" y="925.7" font-size="52" text-anchor="middle">8</text>
<text x="1962.8" y="917.7" font-size="52" text-anchor="middle">9</text>
<text x="744.4" y="1545.8" font-size="52" text-anchor="middle">10</text>
<text x="968.8" y="1377" font-size="52" text-anchor="middle">11</text>
<text x="1176.6" y="1225" font-size="52" text-anchor="middle">12</text>
<text x="1283.8" y="1136.2" font-size="52" text-anchor="middle">13</text>
<text x="2013.1" y="1628.7" font-size="52" text-anchor="middle">14</text>
<text x="1627.3" y="1746.6" font-size="52" text-anchor="middle">15</text>
<text x="1134.6" y="1905.3" font-size="52" text-anchor="middle">16</text>
<text x="288" y="1800" font-size="39" textLength="439" lengthAdjust="spacingAndGlyphs">EBL1270 NOT INCLUDED</text>
<text x="288" y="1850.4" font-size="39" textLength="237" lengthAdjust="spacingAndGlyphs">IN PACKAGE</text>
</svg>
</body></html>
